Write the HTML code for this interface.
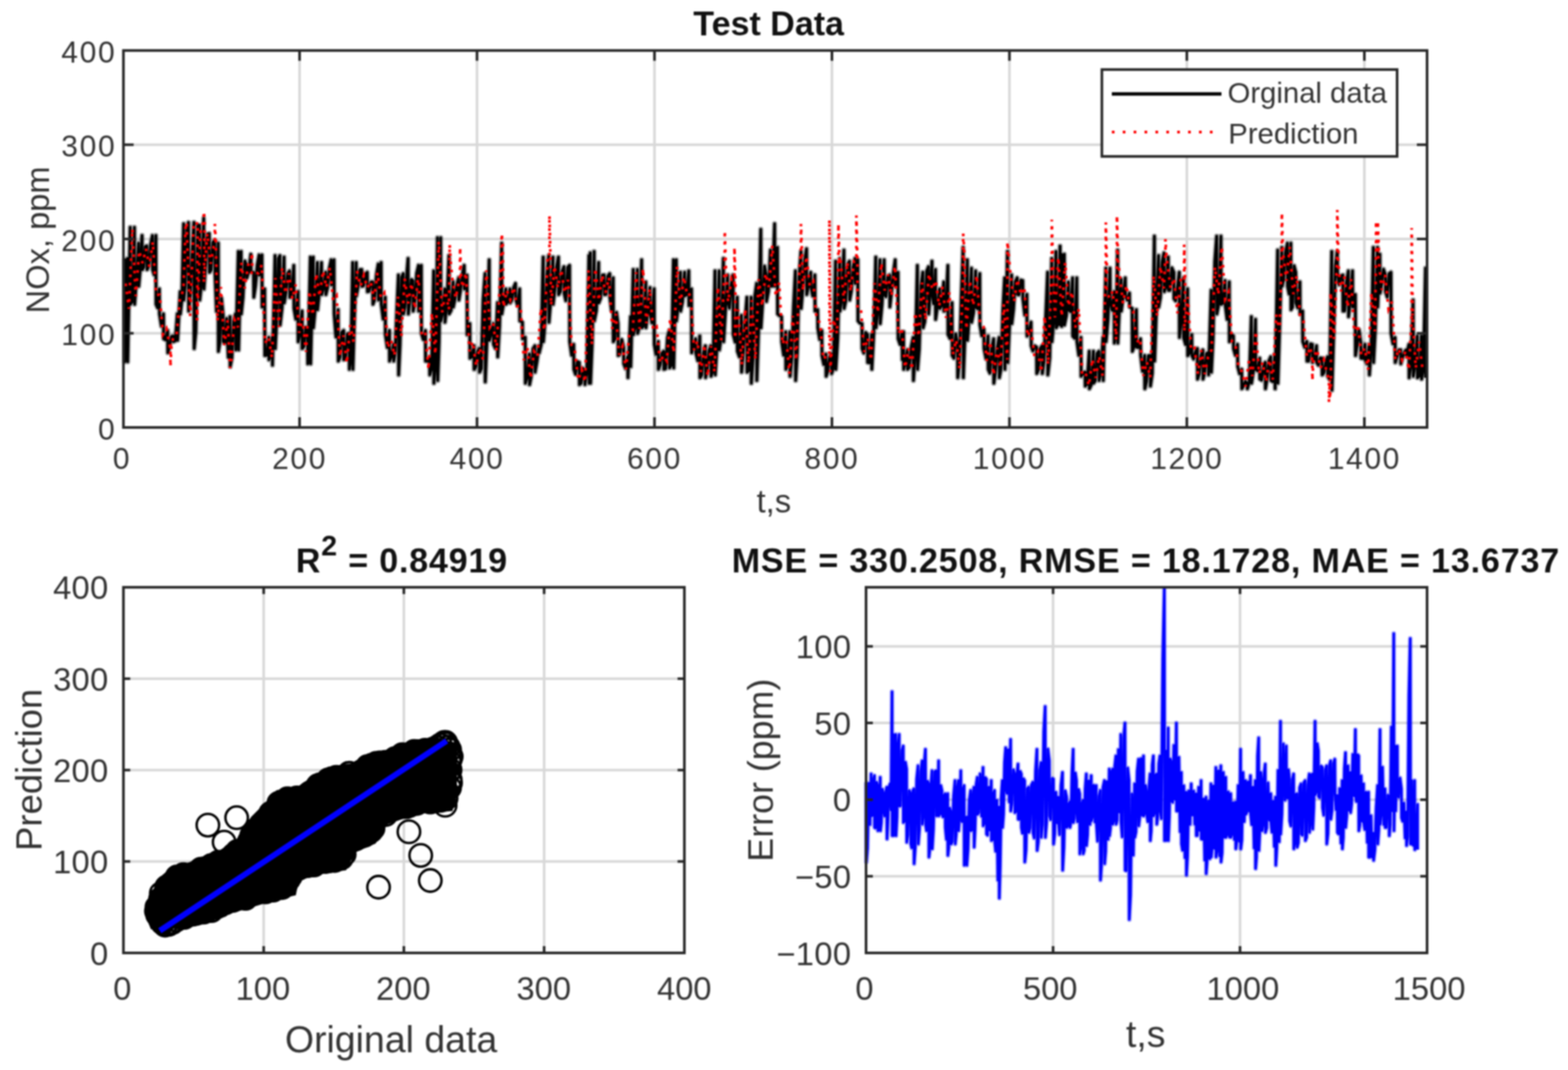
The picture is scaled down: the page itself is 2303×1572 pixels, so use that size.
<!DOCTYPE html>
<html><head><meta charset="utf-8"><title>Test Data</title>
<style>html,body{margin:0;padding:0;background:#fff;overflow:hidden;}svg{display:block;filter:blur(0.8px);}</style>
</head><body>
<svg width="2303" height="1572" viewBox="0 0 2303 1572" font-family="'Liberation Sans', Arial, Helvetica, sans-serif">
<rect width="2303" height="1572" fill="#ffffff"/>
<line x1="440" y1="74.2" x2="440" y2="628" stroke="#d8d8d8" stroke-width="3.84"/>
<line x1="700.6" y1="74.2" x2="700.6" y2="628" stroke="#d8d8d8" stroke-width="3.84"/>
<line x1="961.3" y1="74.2" x2="961.3" y2="628" stroke="#d8d8d8" stroke-width="3.84"/>
<line x1="1221.9" y1="74.2" x2="1221.9" y2="628" stroke="#d8d8d8" stroke-width="3.84"/>
<line x1="1482.6" y1="74.2" x2="1482.6" y2="628" stroke="#d8d8d8" stroke-width="3.84"/>
<line x1="1743.2" y1="74.2" x2="1743.2" y2="628" stroke="#d8d8d8" stroke-width="3.84"/>
<line x1="2003.9" y1="74.2" x2="2003.9" y2="628" stroke="#d8d8d8" stroke-width="3.84"/>
<line x1="181.3" y1="489.6" x2="2096" y2="489.6" stroke="#d8d8d8" stroke-width="3.84"/>
<line x1="181.3" y1="351.1" x2="2096" y2="351.1" stroke="#d8d8d8" stroke-width="3.84"/>
<line x1="181.3" y1="212.6" x2="2096" y2="212.6" stroke="#d8d8d8" stroke-width="3.84"/>
<path d="M183.1 379.7 L183.4 531.4 L187.2 379.7 L187.5 531.4 L191.3 333.9 L191.6 447 L194.3 442.4 L197.4 333.9 L197.7 447 L200.4 411.3 L203.5 357.3 L203.8 420.5 L206 395.3 L208.6 346.1 L208.9 396.1 L211 392.6 L213.3 362.2 L215.7 361.4 L216 396.1 L218.4 390.7 L221.1 360 L223.9 346.1 L224.2 396.1 L226.4 403.7 L228.9 346.1 L229.2 447 L231.5 452.1 L234 424.5 L234.3 461.2 L237.1 479.2 L240.1 461.1 L240.4 497.8 L243.2 499.3 L246.2 485.6 L246.5 518.2 L249 509.6 L251.7 494.7 L254.4 493.7 L254.7 501.9 L257.4 500.9 L260.5 461.1 L260.8 499.9 L264.6 428.6 L264.9 461.2 L267.1 441.4 L269.7 328.8 L270 440.8 L272 420.7 L274.4 336 L276.8 326.8 L277.1 457.1 L279.5 433.3 L282.2 371.9 L284.9 326.8 L285.2 512.1 L287.6 486.9 L290.4 330.5 L293.1 330.9 L293.4 440.8 L296.1 415.3 L299.2 320.7 L299.5 424.6 L301.9 391.5 L304.6 343.9 L307.3 343.1 L307.6 400.1 L310 396.6 L312.7 356.2 L315.5 353.2 L315.8 400.1 L318 457.3 L320.5 357.3 L320.8 516.2 L322.9 503.5 L325.3 438.2 L327.7 463.2 L328 501.9 L330.2 504 L332.8 468.1 L335.3 524.9 L337.8 465.2 L338.1 538.6 L340.6 526 L343.3 470.7 L346 461.1 L346.3 514.1 L350.1 369.5 L350.4 514.1 L354.1 369.5 L354.4 461.2 L356.8 437.7 L359.6 383.4 L362.3 389.9 L362.6 408.3 L365.3 398.6 L368.4 373.6 L368.7 400.1 L372.5 400.1 L372.8 436.8 L375.2 420.2 L377.9 389.3 L380.6 374.6 L380.9 404.2 L384.7 374.6 L385 451 L388.7 424.5 L389 522.3 L391.8 521.7 L394.8 495.7 L395.1 528.4 L397.4 521.5 L399.9 495.7 L400.2 536.5 L404 375.6 L404.3 512.1 L406.4 468.3 L408.8 379.8 L411.1 375.6 L411.4 477.5 L414.2 452.8 L417.2 377.7 L417.5 444.9 L419.9 429.7 L422.6 401.5 L425.4 398 L425.7 436.8 L428.4 430.6 L431.5 389.9 L431.8 453.1 L434.5 468.8 L437.6 428.6 L437.9 501.9 L440.6 491 L443.7 457.1 L444 512.1 L446.4 508.9 L449.1 480.7 L451.8 485.6 L452.1 534.5 L455.9 377.7 L456.2 534.5 L460 377.7 L460.3 481.6 L463 453.1 L466.1 385.8 L466.4 455.1 L469.1 428.5 L472.2 385.8 L472.5 432.7 L475.2 422.6 L478.3 400.1 L478.6 432.7 L481 422.8 L483.7 394.1 L486.4 381.7 L486.7 418.5 L490.5 381.7 L490.8 461.2 L493.5 495 L496.6 455 L496.9 530.4 L499.3 525 L502 488.2 L504.7 485.6 L505 528.4 L507.5 527.4 L510.2 490.9 L512.9 489.6 L513.2 542.6 L515.4 525.4 L518 385.8 L518.3 542.6 L520.5 467 L523.1 385.8 L523.4 434.7 L525.8 421.7 L528.5 396.3 L531.2 396 L531.5 420.5 L533.9 419.8 L536.6 402.9 L539.4 400.1 L539.7 428.6 L542.1 427.8 L544.8 414.5 L547.5 414.3 L547.8 447 L550.2 440.3 L552.9 403.5 L555.6 387.9 L555.9 440.8 L559.7 385.8 L560 447 L562.8 468.8 L565.8 436.7 L566.1 491.7 L568.9 510.4 L571.9 485.6 L572.2 530.4 L575 523.1 L578 505.9 L578.3 530.4 L580.4 518 L582.8 456.9 L585.2 404.1 L585.5 550.8 L587.5 507 L589.9 407.3 L592.3 402.1 L592.6 461.2 L594.7 451.2 L597 409 L599.4 379.7 L599.7 461.2 L601.8 443.8 L604.2 410.7 L606.5 412.3 L606.8 457.1 L609.2 443.6 L612 401.5 L614.7 389.9 L615 457.1 L618.7 389.9 L619 489.7 L621.8 498.9 L624.8 485.6 L625.1 530.4 L627.9 530.7 L631 526.3 L631.3 550.8 L634 540.5 L637 398 L637.3 563 L639.8 535.1 L642.6 349.2 L642.9 558.9 L644.9 501.7 L647.2 349.2 L647.5 471.4 L650.3 458.3 L653.3 424.5 L653.6 473.4 L656.4 448 L659.4 375.6 L659.7 461.2 L662.5 456 L665.5 414.3 L665.8 451 L668.2 439.3 L671 418.6 L673.7 408.2 L674 440.8 L676.4 426.6 L679.1 403.5 L681.8 389.9 L682.1 424.6 L685.9 404.1 L686.2 491.7 L690 475.4 L690.3 526.3 L693 524.1 L696.1 508 L696.4 542.6 L698.8 538.6 L701.5 516.5 L704.2 512 L704.5 546.7 L706.9 541.7 L709.6 440.7 L712.4 402.1 L712.7 561 L715.4 494.3 L718.5 381.7 L718.8 499.9 L721.5 490.2 L724.6 475.4 L724.9 506 L727.6 511.9 L730.7 444.8 L731 524.3 L733.7 478.9 L736.8 357.3 L737.1 461.2 L739.8 444.9 L742.9 424.5 L743.2 447 L745.9 443.6 L749 424.5 L749.3 444.9 L751.7 440.7 L754.4 422.6 L757.1 416.4 L757.4 438.8 L760.2 448.6 L763.2 424.5 L763.5 471.4 L767.3 473.3 L767.6 497.8 L771.4 495.7 L771.7 563 L774.4 553.7 L777.5 520.2 L777.8 565 L780.2 553 L782.9 512.4 L785.6 508 L785.9 546.7 L788.7 530.8 L791.7 508 L792 518.2 L794.8 506.5 L797.8 377.7 L798.1 501.9 L800.6 472.2 L803.3 403.9 L806 375.6 L806.3 473.4 L809 440.2 L812.1 377.7 L812.4 447 L814.8 426.8 L817.5 392.3 L820.2 377.7 L820.5 432.7 L823 428.2 L825.7 398.3 L828.4 391.9 L828.7 430.7 L831.1 441.7 L833.8 392.8 L836.5 389.9 L836.8 501.9 L839.6 521.9 L842.6 505.9 L842.9 542.6 L845.3 549.9 L848.1 531.3 L850.8 532.4 L851.1 565 L853.5 562.9 L856.2 541.3 L858.9 544.6 L859.2 565 L862 544.5 L865 375.6 L865.3 563 L867 371.6 L867.3 563 L869.8 502 L872.6 369.5 L872.9 471.4 L875.9 456.5 L879.2 385.8 L879.5 444.9 L882 438.5 L884.7 404.2 L887.4 404.1 L887.7 432.7 L890.1 432.5 L892.8 405.5 L895.5 402.1 L895.8 436.8 L898.1 455.6 L900.6 408.2 L900.9 501.9 L903 498 L905.4 459 L907.7 475.4 L908 522.3 L910.5 520.7 L913.2 498.7 L915.9 510 L916.2 534.5 L918.9 541.5 L922 524.2 L922.3 554.8 L926.1 465.2 L926.4 538.6 L930.1 396 L930.4 491.7 L933.2 478.8 L936.2 396 L936.5 489.7 L939.3 480.2 L942.4 381.7 L942.7 481.6 L945.4 478.8 L948.5 414.3 L948.8 481.6 L951.5 457.1 L954.6 422.5 L954.9 461.2 L957.6 474.4 L960.7 424.5 L961 506 L963.7 520.5 L966.8 501.8 L967.1 542.6 L969.5 536.1 L972.2 519 L974.9 516.1 L975.2 542.6 L977.6 541.7 L980.4 496 L983.1 485.6 L983.4 540.6 L986.1 535.9 L989.2 381.7 L989.5 540.6 L993.2 381.7 L993.5 471.4 L996.3 448.4 L999.4 400.1 L999.7 457.1 L1002.4 443.7 L1005.5 400.1 L1005.8 434.7 L1008.5 432.8 L1011.6 398 L1011.9 449 L1015.6 424.5 L1015.9 518.2 L1018.7 506.6 L1021.7 497.8 L1022 518.2 L1024.8 529.9 L1027.8 493.7 L1028.1 554.8 L1030.6 551.1 L1033.3 518.3 L1036 508 L1036.3 554.8 L1038.7 543.1 L1041.4 515 L1044.1 508 L1044.4 552.8 L1047.2 545.2 L1050.2 398 L1050.5 550.8 L1053.3 506.3 L1056.3 398 L1056.6 514.1 L1059.4 493.9 L1062.5 379.7 L1062.8 501.9 L1065.5 457.7 L1068.6 404.1 L1068.9 440.8 L1071.3 452.6 L1074 417.5 L1076.7 404.1 L1077 491.7 L1079.8 502.5 L1082.8 436.7 L1083.1 516.2 L1085.9 524.1 L1088.9 463.2 L1089.2 546.7 L1091.6 519.9 L1094.3 472.1 L1097 436.7 L1097.3 546.7 L1100.1 544 L1103.2 436.7 L1103.5 563 L1105.9 527.7 L1108.6 435.9 L1111.3 416.4 L1111.6 558.9 L1114.3 479.8 L1117.4 337 L1117.7 481.6 L1120.1 444.3 L1122.8 391 L1125.5 404.1 L1125.8 442.9 L1128.6 428.2 L1131.6 367.5 L1131.9 420.5 L1134.7 420.3 L1137.7 328.8 L1138 420.5 L1141.8 363.4 L1142.1 461.2 L1144.9 463.8 L1147.9 465.2 L1148.2 501.9 L1151 521.8 L1154 487.6 L1154.3 542.6 L1157.1 532.9 L1160.1 487.6 L1160.4 552.8 L1162.9 526.8 L1165.6 450 L1168.3 398 L1168.6 558.9 L1171 516.7 L1173.7 407.5 L1176.4 369.5 L1176.7 453.1 L1179.1 423.5 L1181.9 382.2 L1184.6 365.5 L1184.9 432.7 L1187.6 419.9 L1190.7 400.1 L1191 420.5 L1193.7 434.7 L1196.8 404.1 L1197.1 457.1 L1200.9 455 L1201.2 481.6 L1203.9 498.6 L1207 485.6 L1207.3 522.3 L1210 535.4 L1213.1 520.2 L1213.4 552.8 L1215.8 545.1 L1218.5 524.1 L1221.2 520.2 L1221.5 548.7 L1224.3 540.2 L1227.3 383.8 L1227.6 542.6 L1230.4 496.2 L1233.4 379.7 L1233.7 457.1 L1236.5 438.8 L1239.5 367.5 L1239.8 453.1 L1242.2 442.2 L1245 388.3 L1247.7 383.8 L1248 440.8 L1250.4 427.8 L1253.1 392.4 L1255.8 379.7 L1256.1 416.4 L1259.9 381.7 L1260.2 471.4 L1262.9 474.7 L1266 475.4 L1266.3 512.1 L1268.7 518.7 L1271.4 488.6 L1274.1 491.7 L1274.4 532.5 L1277.2 533 L1280.2 491.7 L1280.5 542.6 L1283.3 489.2 L1286.3 377.7 L1286.6 481.6 L1289.4 455.3 L1292.5 381.7 L1292.8 475.5 L1295.5 446.7 L1298.6 381.7 L1298.9 432.7 L1301.3 435.6 L1304 406.4 L1306.7 404.1 L1307 451 L1309.4 429.7 L1312.1 400.8 L1314.8 381.7 L1315.1 420.5 L1318.9 400.1 L1319.2 497.8 L1322 506 L1325 487.6 L1325.3 528.4 L1327 487.6 L1327.3 542.6 L1329.8 531.6 L1332.6 514.1 L1332.9 542.6 L1335.5 539.8 L1338.4 509.4 L1341.3 495.7 L1341.6 558.9 L1344.3 518.9 L1347.4 389.9 L1347.7 542.6 L1350.1 513.2 L1352.8 419.6 L1355.5 400.1 L1355.8 481.6 L1358.2 472.8 L1361 398.4 L1363.7 391.9 L1364 461.2 L1366.2 430.1 L1368.8 383.8 L1369.1 430.7 L1371.3 446.2 L1373.9 396 L1374.2 469.3 L1376.9 449.6 L1380 424.5 L1380.3 453.1 L1383 448.7 L1386.1 414.3 L1386.4 457.1 L1389.1 456.2 L1392.2 389.9 L1392.5 491.7 L1395.2 497.1 L1398.3 444.8 L1398.6 522.3 L1401 526.2 L1403.7 490.7 L1406.4 505.9 L1406.7 554.8 L1409.1 529.8 L1411.9 437 L1414.6 363.4 L1414.9 554.8 L1417.6 483.1 L1420.7 381.7 L1421 499.9 L1423.7 460.4 L1426.8 394 L1427.1 473.4 L1429.8 459.5 L1432.9 398 L1433.2 451 L1435.9 453.6 L1439 402.1 L1439.3 477.5 L1442 493.2 L1445.1 483.5 L1445.4 512.1 L1448.2 526.9 L1451.2 493.7 L1451.5 542.6 L1453.9 548.2 L1456.6 512 L1459.4 497.8 L1459.7 563 L1462.1 545.3 L1464.8 511.6 L1467.5 495.7 L1467.8 554.8 L1470.2 542.2 L1472.9 457.6 L1475.6 408.2 L1475.9 542.6 L1479.7 369.5 L1480 532.5 L1482.8 476.5 L1485.8 404.1 L1486.1 475.5 L1488.5 454.9 L1491.2 413.7 L1494 408.2 L1494.3 432.7 L1496.7 433.1 L1499.4 411.6 L1502.1 412.3 L1502.4 438.8 L1505.2 462.8 L1508.2 432.6 L1508.5 493.8 L1511.3 488.1 L1514.3 473.3 L1514.6 508 L1517 515.5 L1519.7 508.2 L1522.5 510 L1522.8 548.7 L1525.2 543.3 L1527.9 512 L1530.6 508 L1530.9 548.7 L1533.3 531.1 L1536 464.4 L1538.7 400.1 L1539 550.8 L1541.8 525.8 L1544.8 379.7 L1545.1 501.9 L1547.9 468.2 L1551 369.5 L1551.3 481.6 L1554 476.4 L1557 361.4 L1557.3 477.5 L1559.1 373.6 L1559.4 479.5 L1563.1 373.6 L1563.4 477.5 L1566.2 463.8 L1569.2 414.3 L1569.5 455.1 L1572.3 457.7 L1575.4 408.2 L1575.7 493.8 L1578.4 496.8 L1581.5 408.2 L1581.8 501.9 L1584.5 521.9 L1587.6 495.7 L1587.9 552.8 L1590.6 548.4 L1593.7 546.6 L1594 567.1 L1596.7 564.3 L1599.8 516.1 L1600.1 571.1 L1602.8 565.3 L1605.9 516.1 L1606.2 563 L1608.6 559.3 L1611.3 519.3 L1614 516.1 L1614.3 558.9 L1617.1 547.1 L1620.1 495.7 L1620.4 558.9 L1624.2 394 L1624.5 501.9 L1627.3 469 L1630.3 394 L1630.6 440.8 L1633.4 455.7 L1636.4 428.6 L1636.7 504 L1639 491.9 L1641.5 367.5 L1641.8 504 L1644.1 453.9 L1646.6 410.2 L1646.9 457.1 L1649.7 435.9 L1652.7 408.2 L1653 434.7 L1655.8 440.8 L1658.8 430.6 L1659.1 451 L1662.9 453 L1663.2 516.2 L1665.9 508.6 L1669 455 L1669.3 510.1 L1672 510.5 L1675.1 497.8 L1675.4 522.3 L1678.2 545.6 L1681.2 522.2 L1681.5 571.1 L1683.9 560.5 L1686.6 522.8 L1689.4 522.2 L1689.7 567.1 L1692.4 548.4 L1695.5 347.1 L1695.8 530.4 L1698.5 452.6 L1701.6 375.6 L1701.9 451 L1704.3 437.4 L1707 384.2 L1709.7 371.6 L1710 428.6 L1712.8 420.5 L1715.8 377.7 L1716.1 426.6 L1718.5 426.4 L1721.2 393.4 L1724 400.1 L1724.3 438.8 L1726.7 442 L1729.4 422.4 L1732.1 400.1 L1732.4 495.8 L1735.2 469.1 L1738.2 408.2 L1738.5 495.8 L1741.3 505.9 L1744.3 424.5 L1744.6 522.3 L1747.4 518.1 L1750.4 491.7 L1750.7 522.3 L1753.1 527.3 L1755.8 517 L1758.6 512 L1758.9 556.9 L1761.3 549.7 L1764 522.4 L1766.7 514.1 L1767 556.9 L1769.4 547 L1772.1 519.6 L1774.8 518.1 L1775.1 550.8 L1778.9 426.5 L1779.2 546.7 L1781.6 499 L1784.3 384.3 L1787 347.1 L1787.3 461.2 L1790.1 446.2 L1793.2 347.1 L1793.5 447 L1796.2 445.3 L1799.2 412.3 L1799.5 447 L1802.3 469.3 L1805.4 414.3 L1805.7 501.9 L1808.4 491.4 L1811.5 493.7 L1811.8 512.1 L1814.5 521.9 L1817.6 505.9 L1817.9 538.6 L1820.6 548.9 L1823.7 542.6 L1824 571.1 L1826.4 566.9 L1829.1 560.4 L1831.8 562.9 L1832.1 571.1 L1834.9 560.9 L1837.9 465.2 L1838.2 563 L1841 544.9 L1844 469.3 L1844.3 542.6 L1847.1 544.7 L1850.1 526.3 L1850.4 556.9 L1852.9 558.5 L1855.6 539.5 L1858.3 532.4 L1858.6 571.1 L1861 557 L1863.7 530.2 L1866.4 524.2 L1866.7 558.9 L1869.5 560.7 L1872.5 520.2 L1872.8 571.1 L1876.6 367.5 L1876.9 563 L1879.7 471.1 L1882.7 363.4 L1883 420.5 L1885.4 410.2 L1888.1 370.3 L1890.9 357.3 L1891.2 420.5 L1893.4 431.9 L1895.9 357.3 L1896.2 455.1 L1898.3 451.2 L1900.7 390.4 L1903.1 400.1 L1903.4 444.9 L1906.1 452.1 L1909.2 414.3 L1909.5 461.2 L1913.2 457.1 L1913.5 501.9 L1916.3 510.1 L1919.4 501.8 L1919.7 530.4 L1922.1 530.5 L1924.8 505.2 L1927.5 505.9 L1927.8 532.5 L1930.5 527.6 L1933.6 508 L1933.9 532.5 L1936.3 536.4 L1939 526 L1941.7 526.3 L1942 550.8 L1944.5 547.6 L1947.2 532 L1949.9 524.2 L1950.2 552.8 L1952.9 557.6 L1956 369.5 L1956.3 573.2 L1958.7 493.5 L1961.4 390.6 L1964.1 369.5 L1964.4 400.1 L1966.8 418.3 L1969.6 405.6 L1972.3 404.1 L1972.6 457.1 L1975 456.8 L1977.7 414.6 L1980.4 398 L1980.7 465.3 L1983.5 440.4 L1986.5 398 L1986.8 451 L1990.6 432.6 L1990.9 522.3 L1993.3 507.1 L1996 484.4 L1998.7 503.9 L1999 526.3 L2001.8 526.6 L2004.8 505.9 L2005.1 528.4 L2007.9 534.4 L2011 505.9 L2011.3 550.8 L2014 512.1 L2017.1 363.4 L2017.4 532.5 L2020.1 480.4 L2023.2 363.4 L2023.5 451 L2026.6 373.6 L2026.9 430.7 L2029.3 417.6 L2032 395.5 L2034.8 404.2 L2035.1 428.7 L2037.5 436.4 L2040.2 402.1 L2042.9 400.1 L2043.2 489.7 L2046 505.1 L2049 495.8 L2049.3 532.5 L2051.7 524.7 L2054.4 514.2 L2057.2 514.1 L2057.5 534.5 L2059.9 526 L2062.6 517.2 L2065.3 514.1 L2065.6 522.3 L2069.4 506 L2069.7 554.9 L2072.4 535.8 L2075.5 440.8 L2075.8 552.8 L2078.5 536 L2081.6 493.7 L2081.9 554.9 L2084.6 552.6 L2087.7 493.7 L2088 556.9 L2090.7 541.4 L2093.8 394 L2093.8 554.9" fill="none" stroke="#000" stroke-opacity="0.35" stroke-width="8" stroke-linejoin="round"/>
<path d="M183.1 379.7 L183.4 531.4 L187.2 379.7 L187.5 531.4 L191.3 333.9 L191.6 447 L194.3 442.4 L197.4 333.9 L197.7 447 L200.4 411.3 L203.5 357.3 L203.8 420.5 L206 395.3 L208.6 346.1 L208.9 396.1 L211 392.6 L213.3 362.2 L215.7 361.4 L216 396.1 L218.4 390.7 L221.1 360 L223.9 346.1 L224.2 396.1 L226.4 403.7 L228.9 346.1 L229.2 447 L231.5 452.1 L234 424.5 L234.3 461.2 L237.1 479.2 L240.1 461.1 L240.4 497.8 L243.2 499.3 L246.2 485.6 L246.5 518.2 L249 509.6 L251.7 494.7 L254.4 493.7 L254.7 501.9 L257.4 500.9 L260.5 461.1 L260.8 499.9 L264.6 428.6 L264.9 461.2 L267.1 441.4 L269.7 328.8 L270 440.8 L272 420.7 L274.4 336 L276.8 326.8 L277.1 457.1 L279.5 433.3 L282.2 371.9 L284.9 326.8 L285.2 512.1 L287.6 486.9 L290.4 330.5 L293.1 330.9 L293.4 440.8 L296.1 415.3 L299.2 320.7 L299.5 424.6 L301.9 391.5 L304.6 343.9 L307.3 343.1 L307.6 400.1 L310 396.6 L312.7 356.2 L315.5 353.2 L315.8 400.1 L318 457.3 L320.5 357.3 L320.8 516.2 L322.9 503.5 L325.3 438.2 L327.7 463.2 L328 501.9 L330.2 504 L332.8 468.1 L335.3 524.9 L337.8 465.2 L338.1 538.6 L340.6 526 L343.3 470.7 L346 461.1 L346.3 514.1 L350.1 369.5 L350.4 514.1 L354.1 369.5 L354.4 461.2 L356.8 437.7 L359.6 383.4 L362.3 389.9 L362.6 408.3 L365.3 398.6 L368.4 373.6 L368.7 400.1 L372.5 400.1 L372.8 436.8 L375.2 420.2 L377.9 389.3 L380.6 374.6 L380.9 404.2 L384.7 374.6 L385 451 L388.7 424.5 L389 522.3 L391.8 521.7 L394.8 495.7 L395.1 528.4 L397.4 521.5 L399.9 495.7 L400.2 536.5 L404 375.6 L404.3 512.1 L406.4 468.3 L408.8 379.8 L411.1 375.6 L411.4 477.5 L414.2 452.8 L417.2 377.7 L417.5 444.9 L419.9 429.7 L422.6 401.5 L425.4 398 L425.7 436.8 L428.4 430.6 L431.5 389.9 L431.8 453.1 L434.5 468.8 L437.6 428.6 L437.9 501.9 L440.6 491 L443.7 457.1 L444 512.1 L446.4 508.9 L449.1 480.7 L451.8 485.6 L452.1 534.5 L455.9 377.7 L456.2 534.5 L460 377.7 L460.3 481.6 L463 453.1 L466.1 385.8 L466.4 455.1 L469.1 428.5 L472.2 385.8 L472.5 432.7 L475.2 422.6 L478.3 400.1 L478.6 432.7 L481 422.8 L483.7 394.1 L486.4 381.7 L486.7 418.5 L490.5 381.7 L490.8 461.2 L493.5 495 L496.6 455 L496.9 530.4 L499.3 525 L502 488.2 L504.7 485.6 L505 528.4 L507.5 527.4 L510.2 490.9 L512.9 489.6 L513.2 542.6 L515.4 525.4 L518 385.8 L518.3 542.6 L520.5 467 L523.1 385.8 L523.4 434.7 L525.8 421.7 L528.5 396.3 L531.2 396 L531.5 420.5 L533.9 419.8 L536.6 402.9 L539.4 400.1 L539.7 428.6 L542.1 427.8 L544.8 414.5 L547.5 414.3 L547.8 447 L550.2 440.3 L552.9 403.5 L555.6 387.9 L555.9 440.8 L559.7 385.8 L560 447 L562.8 468.8 L565.8 436.7 L566.1 491.7 L568.9 510.4 L571.9 485.6 L572.2 530.4 L575 523.1 L578 505.9 L578.3 530.4 L580.4 518 L582.8 456.9 L585.2 404.1 L585.5 550.8 L587.5 507 L589.9 407.3 L592.3 402.1 L592.6 461.2 L594.7 451.2 L597 409 L599.4 379.7 L599.7 461.2 L601.8 443.8 L604.2 410.7 L606.5 412.3 L606.8 457.1 L609.2 443.6 L612 401.5 L614.7 389.9 L615 457.1 L618.7 389.9 L619 489.7 L621.8 498.9 L624.8 485.6 L625.1 530.4 L627.9 530.7 L631 526.3 L631.3 550.8 L634 540.5 L637 398 L637.3 563 L639.8 535.1 L642.6 349.2 L642.9 558.9 L644.9 501.7 L647.2 349.2 L647.5 471.4 L650.3 458.3 L653.3 424.5 L653.6 473.4 L656.4 448 L659.4 375.6 L659.7 461.2 L662.5 456 L665.5 414.3 L665.8 451 L668.2 439.3 L671 418.6 L673.7 408.2 L674 440.8 L676.4 426.6 L679.1 403.5 L681.8 389.9 L682.1 424.6 L685.9 404.1 L686.2 491.7 L690 475.4 L690.3 526.3 L693 524.1 L696.1 508 L696.4 542.6 L698.8 538.6 L701.5 516.5 L704.2 512 L704.5 546.7 L706.9 541.7 L709.6 440.7 L712.4 402.1 L712.7 561 L715.4 494.3 L718.5 381.7 L718.8 499.9 L721.5 490.2 L724.6 475.4 L724.9 506 L727.6 511.9 L730.7 444.8 L731 524.3 L733.7 478.9 L736.8 357.3 L737.1 461.2 L739.8 444.9 L742.9 424.5 L743.2 447 L745.9 443.6 L749 424.5 L749.3 444.9 L751.7 440.7 L754.4 422.6 L757.1 416.4 L757.4 438.8 L760.2 448.6 L763.2 424.5 L763.5 471.4 L767.3 473.3 L767.6 497.8 L771.4 495.7 L771.7 563 L774.4 553.7 L777.5 520.2 L777.8 565 L780.2 553 L782.9 512.4 L785.6 508 L785.9 546.7 L788.7 530.8 L791.7 508 L792 518.2 L794.8 506.5 L797.8 377.7 L798.1 501.9 L800.6 472.2 L803.3 403.9 L806 375.6 L806.3 473.4 L809 440.2 L812.1 377.7 L812.4 447 L814.8 426.8 L817.5 392.3 L820.2 377.7 L820.5 432.7 L823 428.2 L825.7 398.3 L828.4 391.9 L828.7 430.7 L831.1 441.7 L833.8 392.8 L836.5 389.9 L836.8 501.9 L839.6 521.9 L842.6 505.9 L842.9 542.6 L845.3 549.9 L848.1 531.3 L850.8 532.4 L851.1 565 L853.5 562.9 L856.2 541.3 L858.9 544.6 L859.2 565 L862 544.5 L865 375.6 L865.3 563 L867 371.6 L867.3 563 L869.8 502 L872.6 369.5 L872.9 471.4 L875.9 456.5 L879.2 385.8 L879.5 444.9 L882 438.5 L884.7 404.2 L887.4 404.1 L887.7 432.7 L890.1 432.5 L892.8 405.5 L895.5 402.1 L895.8 436.8 L898.1 455.6 L900.6 408.2 L900.9 501.9 L903 498 L905.4 459 L907.7 475.4 L908 522.3 L910.5 520.7 L913.2 498.7 L915.9 510 L916.2 534.5 L918.9 541.5 L922 524.2 L922.3 554.8 L926.1 465.2 L926.4 538.6 L930.1 396 L930.4 491.7 L933.2 478.8 L936.2 396 L936.5 489.7 L939.3 480.2 L942.4 381.7 L942.7 481.6 L945.4 478.8 L948.5 414.3 L948.8 481.6 L951.5 457.1 L954.6 422.5 L954.9 461.2 L957.6 474.4 L960.7 424.5 L961 506 L963.7 520.5 L966.8 501.8 L967.1 542.6 L969.5 536.1 L972.2 519 L974.9 516.1 L975.2 542.6 L977.6 541.7 L980.4 496 L983.1 485.6 L983.4 540.6 L986.1 535.9 L989.2 381.7 L989.5 540.6 L993.2 381.7 L993.5 471.4 L996.3 448.4 L999.4 400.1 L999.7 457.1 L1002.4 443.7 L1005.5 400.1 L1005.8 434.7 L1008.5 432.8 L1011.6 398 L1011.9 449 L1015.6 424.5 L1015.9 518.2 L1018.7 506.6 L1021.7 497.8 L1022 518.2 L1024.8 529.9 L1027.8 493.7 L1028.1 554.8 L1030.6 551.1 L1033.3 518.3 L1036 508 L1036.3 554.8 L1038.7 543.1 L1041.4 515 L1044.1 508 L1044.4 552.8 L1047.2 545.2 L1050.2 398 L1050.5 550.8 L1053.3 506.3 L1056.3 398 L1056.6 514.1 L1059.4 493.9 L1062.5 379.7 L1062.8 501.9 L1065.5 457.7 L1068.6 404.1 L1068.9 440.8 L1071.3 452.6 L1074 417.5 L1076.7 404.1 L1077 491.7 L1079.8 502.5 L1082.8 436.7 L1083.1 516.2 L1085.9 524.1 L1088.9 463.2 L1089.2 546.7 L1091.6 519.9 L1094.3 472.1 L1097 436.7 L1097.3 546.7 L1100.1 544 L1103.2 436.7 L1103.5 563 L1105.9 527.7 L1108.6 435.9 L1111.3 416.4 L1111.6 558.9 L1114.3 479.8 L1117.4 337 L1117.7 481.6 L1120.1 444.3 L1122.8 391 L1125.5 404.1 L1125.8 442.9 L1128.6 428.2 L1131.6 367.5 L1131.9 420.5 L1134.7 420.3 L1137.7 328.8 L1138 420.5 L1141.8 363.4 L1142.1 461.2 L1144.9 463.8 L1147.9 465.2 L1148.2 501.9 L1151 521.8 L1154 487.6 L1154.3 542.6 L1157.1 532.9 L1160.1 487.6 L1160.4 552.8 L1162.9 526.8 L1165.6 450 L1168.3 398 L1168.6 558.9 L1171 516.7 L1173.7 407.5 L1176.4 369.5 L1176.7 453.1 L1179.1 423.5 L1181.9 382.2 L1184.6 365.5 L1184.9 432.7 L1187.6 419.9 L1190.7 400.1 L1191 420.5 L1193.7 434.7 L1196.8 404.1 L1197.1 457.1 L1200.9 455 L1201.2 481.6 L1203.9 498.6 L1207 485.6 L1207.3 522.3 L1210 535.4 L1213.1 520.2 L1213.4 552.8 L1215.8 545.1 L1218.5 524.1 L1221.2 520.2 L1221.5 548.7 L1224.3 540.2 L1227.3 383.8 L1227.6 542.6 L1230.4 496.2 L1233.4 379.7 L1233.7 457.1 L1236.5 438.8 L1239.5 367.5 L1239.8 453.1 L1242.2 442.2 L1245 388.3 L1247.7 383.8 L1248 440.8 L1250.4 427.8 L1253.1 392.4 L1255.8 379.7 L1256.1 416.4 L1259.9 381.7 L1260.2 471.4 L1262.9 474.7 L1266 475.4 L1266.3 512.1 L1268.7 518.7 L1271.4 488.6 L1274.1 491.7 L1274.4 532.5 L1277.2 533 L1280.2 491.7 L1280.5 542.6 L1283.3 489.2 L1286.3 377.7 L1286.6 481.6 L1289.4 455.3 L1292.5 381.7 L1292.8 475.5 L1295.5 446.7 L1298.6 381.7 L1298.9 432.7 L1301.3 435.6 L1304 406.4 L1306.7 404.1 L1307 451 L1309.4 429.7 L1312.1 400.8 L1314.8 381.7 L1315.1 420.5 L1318.9 400.1 L1319.2 497.8 L1322 506 L1325 487.6 L1325.3 528.4 L1327 487.6 L1327.3 542.6 L1329.8 531.6 L1332.6 514.1 L1332.9 542.6 L1335.5 539.8 L1338.4 509.4 L1341.3 495.7 L1341.6 558.9 L1344.3 518.9 L1347.4 389.9 L1347.7 542.6 L1350.1 513.2 L1352.8 419.6 L1355.5 400.1 L1355.8 481.6 L1358.2 472.8 L1361 398.4 L1363.7 391.9 L1364 461.2 L1366.2 430.1 L1368.8 383.8 L1369.1 430.7 L1371.3 446.2 L1373.9 396 L1374.2 469.3 L1376.9 449.6 L1380 424.5 L1380.3 453.1 L1383 448.7 L1386.1 414.3 L1386.4 457.1 L1389.1 456.2 L1392.2 389.9 L1392.5 491.7 L1395.2 497.1 L1398.3 444.8 L1398.6 522.3 L1401 526.2 L1403.7 490.7 L1406.4 505.9 L1406.7 554.8 L1409.1 529.8 L1411.9 437 L1414.6 363.4 L1414.9 554.8 L1417.6 483.1 L1420.7 381.7 L1421 499.9 L1423.7 460.4 L1426.8 394 L1427.1 473.4 L1429.8 459.5 L1432.9 398 L1433.2 451 L1435.9 453.6 L1439 402.1 L1439.3 477.5 L1442 493.2 L1445.1 483.5 L1445.4 512.1 L1448.2 526.9 L1451.2 493.7 L1451.5 542.6 L1453.9 548.2 L1456.6 512 L1459.4 497.8 L1459.7 563 L1462.1 545.3 L1464.8 511.6 L1467.5 495.7 L1467.8 554.8 L1470.2 542.2 L1472.9 457.6 L1475.6 408.2 L1475.9 542.6 L1479.7 369.5 L1480 532.5 L1482.8 476.5 L1485.8 404.1 L1486.1 475.5 L1488.5 454.9 L1491.2 413.7 L1494 408.2 L1494.3 432.7 L1496.7 433.1 L1499.4 411.6 L1502.1 412.3 L1502.4 438.8 L1505.2 462.8 L1508.2 432.6 L1508.5 493.8 L1511.3 488.1 L1514.3 473.3 L1514.6 508 L1517 515.5 L1519.7 508.2 L1522.5 510 L1522.8 548.7 L1525.2 543.3 L1527.9 512 L1530.6 508 L1530.9 548.7 L1533.3 531.1 L1536 464.4 L1538.7 400.1 L1539 550.8 L1541.8 525.8 L1544.8 379.7 L1545.1 501.9 L1547.9 468.2 L1551 369.5 L1551.3 481.6 L1554 476.4 L1557 361.4 L1557.3 477.5 L1559.1 373.6 L1559.4 479.5 L1563.1 373.6 L1563.4 477.5 L1566.2 463.8 L1569.2 414.3 L1569.5 455.1 L1572.3 457.7 L1575.4 408.2 L1575.7 493.8 L1578.4 496.8 L1581.5 408.2 L1581.8 501.9 L1584.5 521.9 L1587.6 495.7 L1587.9 552.8 L1590.6 548.4 L1593.7 546.6 L1594 567.1 L1596.7 564.3 L1599.8 516.1 L1600.1 571.1 L1602.8 565.3 L1605.9 516.1 L1606.2 563 L1608.6 559.3 L1611.3 519.3 L1614 516.1 L1614.3 558.9 L1617.1 547.1 L1620.1 495.7 L1620.4 558.9 L1624.2 394 L1624.5 501.9 L1627.3 469 L1630.3 394 L1630.6 440.8 L1633.4 455.7 L1636.4 428.6 L1636.7 504 L1639 491.9 L1641.5 367.5 L1641.8 504 L1644.1 453.9 L1646.6 410.2 L1646.9 457.1 L1649.7 435.9 L1652.7 408.2 L1653 434.7 L1655.8 440.8 L1658.8 430.6 L1659.1 451 L1662.9 453 L1663.2 516.2 L1665.9 508.6 L1669 455 L1669.3 510.1 L1672 510.5 L1675.1 497.8 L1675.4 522.3 L1678.2 545.6 L1681.2 522.2 L1681.5 571.1 L1683.9 560.5 L1686.6 522.8 L1689.4 522.2 L1689.7 567.1 L1692.4 548.4 L1695.5 347.1 L1695.8 530.4 L1698.5 452.6 L1701.6 375.6 L1701.9 451 L1704.3 437.4 L1707 384.2 L1709.7 371.6 L1710 428.6 L1712.8 420.5 L1715.8 377.7 L1716.1 426.6 L1718.5 426.4 L1721.2 393.4 L1724 400.1 L1724.3 438.8 L1726.7 442 L1729.4 422.4 L1732.1 400.1 L1732.4 495.8 L1735.2 469.1 L1738.2 408.2 L1738.5 495.8 L1741.3 505.9 L1744.3 424.5 L1744.6 522.3 L1747.4 518.1 L1750.4 491.7 L1750.7 522.3 L1753.1 527.3 L1755.8 517 L1758.6 512 L1758.9 556.9 L1761.3 549.7 L1764 522.4 L1766.7 514.1 L1767 556.9 L1769.4 547 L1772.1 519.6 L1774.8 518.1 L1775.1 550.8 L1778.9 426.5 L1779.2 546.7 L1781.6 499 L1784.3 384.3 L1787 347.1 L1787.3 461.2 L1790.1 446.2 L1793.2 347.1 L1793.5 447 L1796.2 445.3 L1799.2 412.3 L1799.5 447 L1802.3 469.3 L1805.4 414.3 L1805.7 501.9 L1808.4 491.4 L1811.5 493.7 L1811.8 512.1 L1814.5 521.9 L1817.6 505.9 L1817.9 538.6 L1820.6 548.9 L1823.7 542.6 L1824 571.1 L1826.4 566.9 L1829.1 560.4 L1831.8 562.9 L1832.1 571.1 L1834.9 560.9 L1837.9 465.2 L1838.2 563 L1841 544.9 L1844 469.3 L1844.3 542.6 L1847.1 544.7 L1850.1 526.3 L1850.4 556.9 L1852.9 558.5 L1855.6 539.5 L1858.3 532.4 L1858.6 571.1 L1861 557 L1863.7 530.2 L1866.4 524.2 L1866.7 558.9 L1869.5 560.7 L1872.5 520.2 L1872.8 571.1 L1876.6 367.5 L1876.9 563 L1879.7 471.1 L1882.7 363.4 L1883 420.5 L1885.4 410.2 L1888.1 370.3 L1890.9 357.3 L1891.2 420.5 L1893.4 431.9 L1895.9 357.3 L1896.2 455.1 L1898.3 451.2 L1900.7 390.4 L1903.1 400.1 L1903.4 444.9 L1906.1 452.1 L1909.2 414.3 L1909.5 461.2 L1913.2 457.1 L1913.5 501.9 L1916.3 510.1 L1919.4 501.8 L1919.7 530.4 L1922.1 530.5 L1924.8 505.2 L1927.5 505.9 L1927.8 532.5 L1930.5 527.6 L1933.6 508 L1933.9 532.5 L1936.3 536.4 L1939 526 L1941.7 526.3 L1942 550.8 L1944.5 547.6 L1947.2 532 L1949.9 524.2 L1950.2 552.8 L1952.9 557.6 L1956 369.5 L1956.3 573.2 L1958.7 493.5 L1961.4 390.6 L1964.1 369.5 L1964.4 400.1 L1966.8 418.3 L1969.6 405.6 L1972.3 404.1 L1972.6 457.1 L1975 456.8 L1977.7 414.6 L1980.4 398 L1980.7 465.3 L1983.5 440.4 L1986.5 398 L1986.8 451 L1990.6 432.6 L1990.9 522.3 L1993.3 507.1 L1996 484.4 L1998.7 503.9 L1999 526.3 L2001.8 526.6 L2004.8 505.9 L2005.1 528.4 L2007.9 534.4 L2011 505.9 L2011.3 550.8 L2014 512.1 L2017.1 363.4 L2017.4 532.5 L2020.1 480.4 L2023.2 363.4 L2023.5 451 L2026.6 373.6 L2026.9 430.7 L2029.3 417.6 L2032 395.5 L2034.8 404.2 L2035.1 428.7 L2037.5 436.4 L2040.2 402.1 L2042.9 400.1 L2043.2 489.7 L2046 505.1 L2049 495.8 L2049.3 532.5 L2051.7 524.7 L2054.4 514.2 L2057.2 514.1 L2057.5 534.5 L2059.9 526 L2062.6 517.2 L2065.3 514.1 L2065.6 522.3 L2069.4 506 L2069.7 554.9 L2072.4 535.8 L2075.5 440.8 L2075.8 552.8 L2078.5 536 L2081.6 493.7 L2081.9 554.9 L2084.6 552.6 L2087.7 493.7 L2088 556.9 L2090.7 541.4 L2093.8 394 L2093.8 554.9" fill="none" stroke="#000" stroke-width="4" stroke-linejoin="round"/>
<path d="M184.4 416.5 L189.4 453.7 L194.4 336.5 L199.4 435.1 L204.4 368.5 L209.4 386.6 L214.4 365.6 L219.4 392 L224.4 355.3 L229.4 433.3 L234.4 433 L239.4 491.3 L244.4 482.8 L249.4 508.7 L250.3 508.1 L250.3 538.5 L251.8 508.1 L254.4 495.6 L259.4 491.4 L264.4 437.9 L269.4 426.2 L272.7 329.9 L272.7 326.8 L274.2 329.9 L274.4 342.1 L279.4 464.3 L284.4 329.4 L289 330.8 L289 326.8 L290.5 330.8 L289.4 470.6 L294.4 342 L299.2 322.7 L299.2 310.5 L300.7 322.7 L299.4 414.8 L304.4 343 L309.4 387.5 L314.4 359 L315.5 355.2 L315.5 328.9 L317 355.2 L319.4 471.4 L324.4 421.6 L329.4 507 L334.4 470.4 L337.8 536.6 L337.8 540.6 L339.3 536.6 L339.4 530.5 L344.4 469.9 L349.4 481 L354.4 386 L359.4 423.8 L364.4 389.4 L369.4 382.2 L369.4 371.6 L370.9 382.2 L369.4 403.2 L374.4 400.9 L379.4 401.3 L384.4 389.3 L389.4 504.5 L394.4 495.1 L399.4 525.4 L404.4 408.5 L409.4 480.3 L414.4 393 L419.4 431.4 L424.4 401.4 L429.4 439.6 L434.4 417.9 L439.4 488.8 L444.4 467.3 L449.4 516.8 L454.4 427.4 L459.4 463.3 L464.4 401.9 L469.4 435.4 L474.4 397.7 L479.4 422.5 L484.4 393.3 L489.4 441.1 L494.4 434.3 L499.4 523.7 L504.4 492.8 L509.4 533.7 L514.4 477.7 L519.4 502.3 L524.4 398.3 L529.4 420.4 L534.4 404.4 L539.4 423.1 L544.4 413.6 L549.4 439.9 L554.4 400.6 L559.4 436.9 L564.4 430.5 L569.4 511.3 L574.4 499.4 L579.4 522.5 L584.4 435.9 L589.4 494.1 L594.4 409.4 L599.4 445.8 L604.4 415.9 L609.4 453.7 L614.4 403.5 L619.4 492 L624.4 487.8 L629.4 542.9 L634.4 459.7 L639.4 520.4 L644.4 354.8 L649.4 458.9 L654.4 428 L659.4 455.1 L660.4 384.1 L660.4 359.4 L661.9 384.1 L664.4 410.7 L669.4 437.9 L674.4 410.7 L675.7 405.6 L675.7 363.5 L677.2 405.6 L679.4 422.6 L684.4 400.6 L689.4 516.1 L694.4 501.9 L699.4 537.8 L704.4 510.7 L709.4 528 L714.4 397 L719.4 481.3 L724.4 474.6 L729.4 515.3 L734.4 410.7 L736.8 359.3 L736.8 343.1 L738.3 359.3 L739.4 451.4 L744.4 426.4 L749.4 440.4 L754.4 422 L759.4 449.8 L764.4 449.4 L769.4 529.2 L774.4 509.5 L779.4 556.1 L784.4 516.5 L789.4 524.4 L794.4 453 L799.4 485.5 L804.4 377.8 L807 378 L807 316.6 L808.5 378 L809.4 448.5 L814.4 390.8 L819.4 423 L824.4 396.1 L829.4 430.2 L834.4 411.1 L839.4 507.3 L844.4 516.8 L849.4 558.6 L854.4 543 L859.4 561.3 L864.4 397.1 L869.4 505.8 L874.4 394.3 L879.4 441.8 L884.4 404 L889.4 430 L894.4 407.5 L899.4 483 L904.4 461.2 L909.4 521.2 L914.4 508.8 L919.4 542.6 L924.4 490 L929.4 486.2 L934.4 400.2 L939.4 483.1 L944.4 394.6 L949.4 474.8 L954.4 424.2 L959.4 484.7 L964.4 480.1 L969.4 533.2 L974.4 522.2 L979.4 530.5 L984.4 467.6 L989.4 518.1 L994.4 391.4 L999.4 447.7 L1004.4 406.7 L1009.4 434.4 L1014.4 431.8 L1019.4 514.3 L1024.4 500.8 L1029.4 546.4 L1034.4 506.3 L1039.4 552.6 L1044.4 508.4 L1049.4 546.2 L1054.4 421.7 L1059.4 499.9 L1064.4 391 L1064.5 389.9 L1064.5 339 L1066 389.9 L1069.4 443.5 L1074.4 409.3 L1078.7 417 L1078.7 363.5 L1080.2 417 L1079.4 497.2 L1084.4 455 L1089.4 536 L1094.4 453.9 L1099.4 533.7 L1104.4 441.2 L1109.4 527.8 L1114.4 410.4 L1119.4 449.7 L1124.4 401.7 L1129.4 421.7 L1134.4 360.7 L1139.4 435.3 L1144.4 415.4 L1149.4 505.9 L1154.4 491 L1159.4 549.2 L1164.4 464.1 L1169.4 529.3 L1174.4 390.5 L1176.4 371.5 L1176.4 328.9 L1177.9 371.5 L1179.4 427.1 L1184.4 376.5 L1189.4 419.9 L1194.4 413.1 L1199.4 469 L1204.4 474.1 L1209.4 528 L1214.4 521.9 L1218.2 522.2 L1218.2 322.7 L1219.7 522.2 L1219.4 546.5 L1224.4 469 L1229.4 490.2 L1231.4 383.1 L1231.4 328.9 L1232.9 383.1 L1234.4 379 L1239.4 442.7 L1244.4 385.1 L1249.4 428.4 L1254.4 383.4 L1257.8 382.7 L1257.8 316.6 L1259.3 382.7 L1259.4 452.4 L1264.4 453.5 L1269.4 517.1 L1274.4 496.3 L1279.4 529.2 L1284.4 415.9 L1289.4 459.2 L1294.4 386.5 L1299.4 426.8 L1304.4 403.4 L1309.4 434.9 L1314.4 390.9 L1319.4 490.5 L1324.4 481.6 L1329.4 540.4 L1334.4 511.9 L1339.4 543 L1344.4 459.2 L1349.4 494.4 L1354.4 415.1 L1359.4 470.3 L1364.4 402.2 L1369.4 425.4 L1374.4 411.9 L1379.4 449.7 L1384.4 421.3 L1389.4 466.9 L1394.4 429.4 L1399.4 521.1 L1404.4 499.1 L1409.4 541.9 L1414.4 411.3 L1414.6 365.4 L1414.6 343.1 L1416.1 365.4 L1419.4 483.6 L1424.4 411.8 L1429.4 448.9 L1434.4 404.3 L1439.4 475 L1444.4 479.6 L1449.4 530.1 L1454.4 502 L1459.4 551.2 L1464.4 511.1 L1469.4 539.9 L1474.4 446.9 L1479.4 528.3 L1479.7 371.5 L1479.7 355.3 L1481.2 371.5 L1484.4 405.4 L1489.4 443.3 L1494.4 410.3 L1499.4 433.3 L1504.4 421.7 L1509.4 494.5 L1514.4 482.3 L1519.4 524 L1524.4 516.5 L1529.4 546.5 L1534.4 464.7 L1539.4 535.7 L1544.4 402.5 L1544.8 381.7 L1544.8 322.7 L1546.3 381.7 L1549.4 466.4 L1554.4 378.2 L1559.4 464.8 L1564.4 385.7 L1569.4 449.9 L1574.4 428.4 L1579.4 481.4 L1584.4 453.7 L1589.4 550.5 L1594.4 547.9 L1599.4 566.6 L1604.4 527.6 L1609.4 555.2 L1614.4 523.1 L1619.4 552 L1624.2 396 L1624.2 326.8 L1625.7 396 L1624.4 420.7 L1629.4 438.1 L1634.4 427.5 L1639.4 499 L1640.5 381.7 L1640.5 316.6 L1642 381.7 L1644.4 402.2 L1649.4 445.5 L1654.4 419 L1659.4 454.5 L1664.4 457.2 L1669.4 503.5 L1674.4 497.3 L1679.4 552 L1684.4 531.3 L1689.4 555 L1694.4 405.2 L1699.4 464.5 L1704.4 391.3 L1709.4 423.8 L1711.7 375.6 L1711.7 351.2 L1713.2 375.6 L1714.4 386.4 L1719.4 424.1 L1724.4 408.7 L1729.4 460.2 L1734.4 409.3 L1739.2 412.9 L1739.2 359.4 L1740.7 412.9 L1739.4 486.6 L1744.4 436.4 L1749.4 514.7 L1754.4 511.4 L1759.4 549.1 L1764.4 514.6 L1769.4 549.5 L1774.4 524.5 L1779.4 514.2 L1784.4 392.1 L1789.4 432.9 L1794.4 362.3 L1799.4 439.6 L1804.4 429.2 L1809.4 501.8 L1814.4 505.9 L1819.4 541 L1824.4 546.1 L1829.4 567.7 L1834.4 530.5 L1839.4 552.5 L1844.4 486.8 L1849.4 549.3 L1854.4 532.1 L1859.4 561.1 L1864.4 528.4 L1869.4 557.7 L1874.4 462.2 L1879.4 487.5 L1882.7 365.4 L1882.7 312.6 L1884.2 365.4 L1884.4 371.1 L1889.4 412.5 L1894.4 362.7 L1899.4 432.2 L1904.4 405.1 L1909.4 462.9 L1914.4 471.7 L1919.4 523.9 L1924.4 509.6 L1927.5 530.5 L1927.5 558.9 L1929 530.5 L1929.4 526.9 L1934.4 513.6 L1939.4 540.8 L1944.4 528.6 L1949.4 549.9 L1951.9 557.6 L1951.9 591.5 L1953.4 557.6 L1953.3 562.3 L1953.3 585.4 L1954.8 562.3 L1954.4 429.6 L1959.4 498 L1964.1 371.5 L1964.1 308.5 L1965.6 371.5 L1964.4 372.4 L1969.4 428.1 L1974.4 405.9 L1979.4 451.4 L1984.4 410 L1989.4 493.2 L1994.4 476.7 L1999.4 521.6 L2004.4 511.2 L2009.4 543 L2014.4 430.1 L2019.4 486.8 L2021.1 365.4 L2021.1 324.8 L2022.6 365.4 L2023.6 366.6 L2023.6 324.8 L2025.1 366.6 L2024.4 376.8 L2029.4 425.8 L2034.4 404 L2039.4 454.4 L2044.4 443.2 L2049.4 528.5 L2054.4 512.2 L2059.4 528.7 L2064.4 515.9 L2069.4 543.5 L2073.4 464.5 L2073.4 335 L2074.9 464.5 L2074.4 460.5 L2079.4 540.7 L2084.4 502 L2089.4 543.3" fill="none" stroke="#ff0000" stroke-width="4" stroke-dasharray="4 8"/>
<path d="M440 628V613M440 74.2V89.2M700.6 628V613M700.6 74.2V89.2M961.3 628V613M961.3 74.2V89.2M1221.9 628V613M1221.9 74.2V89.2M1482.6 628V613M1482.6 74.2V89.2M1743.2 628V613M1743.2 74.2V89.2M2003.9 628V613M2003.9 74.2V89.2M181.3 489.6H196.3M2096 489.6H2081M181.3 351.1H196.3M2096 351.1H2081M181.3 212.6H196.3M2096 212.6H2081" stroke="#262626" stroke-width="3.84" fill="none"/>
<rect x="181.3" y="74.2" width="1914.7" height="553.8" fill="none" stroke="#262626" stroke-width="3.84"/>
<text x="179.3" y="689" font-size="44" text-anchor="middle" font-weight="normal" fill="#333" letter-spacing="2.4">0</text>
<text x="440" y="689" font-size="44" text-anchor="middle" font-weight="normal" fill="#333" letter-spacing="2.4">200</text>
<text x="700.6" y="689" font-size="44" text-anchor="middle" font-weight="normal" fill="#333" letter-spacing="2.4">400</text>
<text x="961.3" y="689" font-size="44" text-anchor="middle" font-weight="normal" fill="#333" letter-spacing="2.4">600</text>
<text x="1221.9" y="689" font-size="44" text-anchor="middle" font-weight="normal" fill="#333" letter-spacing="2.4">800</text>
<text x="1482.6" y="689" font-size="44" text-anchor="middle" font-weight="normal" fill="#333" letter-spacing="2.4">1000</text>
<text x="1743.2" y="689" font-size="44" text-anchor="middle" font-weight="normal" fill="#333" letter-spacing="2.4">1200</text>
<text x="2003.9" y="689" font-size="44" text-anchor="middle" font-weight="normal" fill="#333" letter-spacing="2.4">1400</text>
<text x="171" y="645.5" font-size="44" text-anchor="end" font-weight="normal" fill="#333" letter-spacing="2.5">0</text>
<text x="171" y="507.1" font-size="44" text-anchor="end" font-weight="normal" fill="#333" letter-spacing="2.5">100</text>
<text x="171" y="368.6" font-size="44" text-anchor="end" font-weight="normal" fill="#333" letter-spacing="2.5">200</text>
<text x="171" y="230.1" font-size="44" text-anchor="end" font-weight="normal" fill="#333" letter-spacing="2.5">300</text>
<text x="171" y="91.7" font-size="44" text-anchor="end" font-weight="normal" fill="#333" letter-spacing="2.5">400</text>
<text x="1129" y="52" font-size="50" text-anchor="middle" font-weight="bold" fill="#111" >Test Data</text>
<text x="1136.6" y="752.9" font-size="48" text-anchor="middle" font-weight="normal" fill="#333" >t,s</text>
<text x="0" y="0" font-size="48" text-anchor="middle" font-weight="normal" fill="#333" transform="translate(72 352.5) rotate(-90)">NOx, ppm</text>
<rect x="1618.4" y="102.2" width="433.6" height="127.6" fill="#fff" stroke="#262626" stroke-width="3.84"/>
<line x1="1633" y1="138" x2="1794" y2="138" stroke="#000" stroke-width="5"/>
<line x1="1633" y1="194" x2="1786" y2="194" stroke="#ff0000" stroke-width="4" stroke-dasharray="4 12"/>
<text x="1803" y="151.2" font-size="43" text-anchor="start" font-weight="normal" fill="#333" >Orginal data</text>
<text x="1804" y="211.4" font-size="43" text-anchor="start" font-weight="normal" fill="#333" >Prediction</text>
<line x1="387.3" y1="862.8" x2="387.3" y2="1400" stroke="#d8d8d8" stroke-width="3.84"/>
<line x1="593.2" y1="862.8" x2="593.2" y2="1400" stroke="#d8d8d8" stroke-width="3.84"/>
<line x1="799.2" y1="862.8" x2="799.2" y2="1400" stroke="#d8d8d8" stroke-width="3.84"/>
<line x1="181.3" y1="1265.7" x2="1005.2" y2="1265.7" stroke="#d8d8d8" stroke-width="3.84"/>
<line x1="181.3" y1="1131.4" x2="1005.2" y2="1131.4" stroke="#d8d8d8" stroke-width="3.84"/>
<line x1="181.3" y1="997.1" x2="1005.2" y2="997.1" stroke="#d8d8d8" stroke-width="3.84"/>
<path d="M216.3 1330.5 L228.2 1300 L239 1285 L254 1274 L291 1263 L304 1254.5 L321.6 1250 L347.6 1232.8 L369 1200 L395 1174 L406 1161 L438.8 1154.7 L460.5 1139.5 L482 1126.4 L514.8 1122 L536.5 1111 L575.6 1100 L586.4 1092.8 L645 1085 L671 1091.7 L671 1135 L671 1163 L664.6 1191.6 L612.5 1196 L569 1211 L551.7 1239.3 L521.3 1252.4 L508.3 1278.4 L477.9 1282.8 L438.8 1293.6 L434.5 1315.3 L406.3 1321.8 L378 1330.5 L341 1341.4 L308.6 1354.4 L286.8 1361 L254.3 1364.2 L221.7 1365.3 L216.3 1352.2Z" fill="#000"/>
<path d="M230.7 1340.2 L237.8 1314.4 L248.6 1299.4 L263.6 1288.4 L300.6 1277.4 L313.6 1268.9 L331.2 1264.4 L357.2 1247.2 L378.6 1214.4 L404.6 1188.4 L415.6 1175.4 L448.4 1169.1 L470.1 1153.9 L491.6 1140.8 L524.4 1136.4 L546.1 1125.4 L585.2 1114.4 L596 1107.2 L650 1092.5 L653.7 1090.8 L661.4 1120.6 L661.4 1148.6 L655 1177.2 L602.9 1181.6 L559.4 1196.6 L542.1 1224.9 L511.7 1238 L498.7 1264 L468.3 1268.4 L429.2 1279.2 L424.9 1300.9 L396.7 1307.4 L368.4 1316.1 L331.4 1327 L299 1340 L277.2 1346.6 L253 1355.3 L238.2 1360 L233.6 1353.6Z" fill="#000"/>
<path d="M213.3 1338.6a16.5 16.5 0 1 0 33 0a16.5 16.5 0 1 0 -33 0M214 1332.9a16.5 16.5 0 1 0 33 0a16.5 16.5 0 1 0 -33 0M216.3 1330a16.5 16.5 0 1 0 33 0a16.5 16.5 0 1 0 -33 0M217.5 1327.4a16.5 16.5 0 1 0 33 0a16.5 16.5 0 1 0 -33 0M219.3 1321a16.5 16.5 0 1 0 33 0a16.5 16.5 0 1 0 -33 0M220.4 1312.7a16.5 16.5 0 1 0 33 0a16.5 16.5 0 1 0 -33 0M227.8 1311.2a16.5 16.5 0 1 0 33 0a16.5 16.5 0 1 0 -33 0M228.3 1303.4a16.5 16.5 0 1 0 33 0a16.5 16.5 0 1 0 -33 0M236.5 1301.9a16.5 16.5 0 1 0 33 0a16.5 16.5 0 1 0 -33 0M239.1 1294.9a16.5 16.5 0 1 0 33 0a16.5 16.5 0 1 0 -33 0M243.8 1288.2a16.5 16.5 0 1 0 33 0a16.5 16.5 0 1 0 -33 0M250.1 1287.2a16.5 16.5 0 1 0 33 0a16.5 16.5 0 1 0 -33 0M252.9 1285.1a16.5 16.5 0 1 0 33 0a16.5 16.5 0 1 0 -33 0M262.5 1287.4a16.5 16.5 0 1 0 33 0a16.5 16.5 0 1 0 -33 0M267.2 1284.3a16.5 16.5 0 1 0 33 0a16.5 16.5 0 1 0 -33 0M274.3 1280.7a16.5 16.5 0 1 0 33 0a16.5 16.5 0 1 0 -33 0M278.8 1277a16.5 16.5 0 1 0 33 0a16.5 16.5 0 1 0 -33 0M283.8 1276.5a16.5 16.5 0 1 0 33 0a16.5 16.5 0 1 0 -33 0M293.6 1272a16.5 16.5 0 1 0 33 0a16.5 16.5 0 1 0 -33 0M299.2 1270.2a16.5 16.5 0 1 0 33 0a16.5 16.5 0 1 0 -33 0M304.4 1266.8a16.5 16.5 0 1 0 33 0a16.5 16.5 0 1 0 -33 0M313.1 1267.5a16.5 16.5 0 1 0 33 0a16.5 16.5 0 1 0 -33 0M316.4 1265.4a16.5 16.5 0 1 0 33 0a16.5 16.5 0 1 0 -33 0M323.7 1263.3a16.5 16.5 0 1 0 33 0a16.5 16.5 0 1 0 -33 0M327.2 1255.8a16.5 16.5 0 1 0 33 0a16.5 16.5 0 1 0 -33 0M332.4 1250.8a16.5 16.5 0 1 0 33 0a16.5 16.5 0 1 0 -33 0M338.5 1252.4a16.5 16.5 0 1 0 33 0a16.5 16.5 0 1 0 -33 0M341.6 1247.7a16.5 16.5 0 1 0 33 0a16.5 16.5 0 1 0 -33 0M345.7 1243.7a16.5 16.5 0 1 0 33 0a16.5 16.5 0 1 0 -33 0M350.4 1235.3a16.5 16.5 0 1 0 33 0a16.5 16.5 0 1 0 -33 0M353.2 1227.9a16.5 16.5 0 1 0 33 0a16.5 16.5 0 1 0 -33 0M357.5 1224.7a16.5 16.5 0 1 0 33 0a16.5 16.5 0 1 0 -33 0M360.2 1218.8a16.5 16.5 0 1 0 33 0a16.5 16.5 0 1 0 -33 0M366.8 1216a16.5 16.5 0 1 0 33 0a16.5 16.5 0 1 0 -33 0M369 1210.9a16.5 16.5 0 1 0 33 0a16.5 16.5 0 1 0 -33 0M372.4 1207.9a16.5 16.5 0 1 0 33 0a16.5 16.5 0 1 0 -33 0M379.5 1203.8a16.5 16.5 0 1 0 33 0a16.5 16.5 0 1 0 -33 0M381.3 1194.7a16.5 16.5 0 1 0 33 0a16.5 16.5 0 1 0 -33 0M386.1 1193.9a16.5 16.5 0 1 0 33 0a16.5 16.5 0 1 0 -33 0M388.7 1189.2a16.5 16.5 0 1 0 33 0a16.5 16.5 0 1 0 -33 0M393.2 1180a16.5 16.5 0 1 0 33 0a16.5 16.5 0 1 0 -33 0M401.1 1178.1a16.5 16.5 0 1 0 33 0a16.5 16.5 0 1 0 -33 0M405.8 1173.6a16.5 16.5 0 1 0 33 0a16.5 16.5 0 1 0 -33 0M415.9 1176a16.5 16.5 0 1 0 33 0a16.5 16.5 0 1 0 -33 0M419.5 1172.3a16.5 16.5 0 1 0 33 0a16.5 16.5 0 1 0 -33 0M429.7 1173.4a16.5 16.5 0 1 0 33 0a16.5 16.5 0 1 0 -33 0M436.7 1170.6a16.5 16.5 0 1 0 33 0a16.5 16.5 0 1 0 -33 0M438.5 1165.2a16.5 16.5 0 1 0 33 0a16.5 16.5 0 1 0 -33 0M446.1 1164.1a16.5 16.5 0 1 0 33 0a16.5 16.5 0 1 0 -33 0M450.5 1154.4a16.5 16.5 0 1 0 33 0a16.5 16.5 0 1 0 -33 0M453.7 1153a16.5 16.5 0 1 0 33 0a16.5 16.5 0 1 0 -33 0M460.3 1151.2a16.5 16.5 0 1 0 33 0a16.5 16.5 0 1 0 -33 0M465.9 1145.8a16.5 16.5 0 1 0 33 0a16.5 16.5 0 1 0 -33 0M470.1 1144.6a16.5 16.5 0 1 0 33 0a16.5 16.5 0 1 0 -33 0M477.5 1142.1a16.5 16.5 0 1 0 33 0a16.5 16.5 0 1 0 -33 0M486.8 1141.7a16.5 16.5 0 1 0 33 0a16.5 16.5 0 1 0 -33 0M491.4 1140.6a16.5 16.5 0 1 0 33 0a16.5 16.5 0 1 0 -33 0M496.3 1136.1a16.5 16.5 0 1 0 33 0a16.5 16.5 0 1 0 -33 0M506.7 1139.6a16.5 16.5 0 1 0 33 0a16.5 16.5 0 1 0 -33 0M512.6 1137.9a16.5 16.5 0 1 0 33 0a16.5 16.5 0 1 0 -33 0M514.8 1133.5a16.5 16.5 0 1 0 33 0a16.5 16.5 0 1 0 -33 0M520.3 1132.6a16.5 16.5 0 1 0 33 0a16.5 16.5 0 1 0 -33 0M523.3 1126.4a16.5 16.5 0 1 0 33 0a16.5 16.5 0 1 0 -33 0M529.7 1124.2a16.5 16.5 0 1 0 33 0a16.5 16.5 0 1 0 -33 0M536.3 1121.5a16.5 16.5 0 1 0 33 0a16.5 16.5 0 1 0 -33 0M541.9 1120.7a16.5 16.5 0 1 0 33 0a16.5 16.5 0 1 0 -33 0M549.6 1120a16.5 16.5 0 1 0 33 0a16.5 16.5 0 1 0 -33 0M557.9 1121.4a16.5 16.5 0 1 0 33 0a16.5 16.5 0 1 0 -33 0M563.8 1114.5a16.5 16.5 0 1 0 33 0a16.5 16.5 0 1 0 -33 0M569.5 1114a16.5 16.5 0 1 0 33 0a16.5 16.5 0 1 0 -33 0M574.4 1108.8a16.5 16.5 0 1 0 33 0a16.5 16.5 0 1 0 -33 0M585.5 1110.9a16.5 16.5 0 1 0 33 0a16.5 16.5 0 1 0 -33 0M588.4 1107.1a16.5 16.5 0 1 0 33 0a16.5 16.5 0 1 0 -33 0M591.9 1104a16.5 16.5 0 1 0 33 0a16.5 16.5 0 1 0 -33 0M600.1 1104a16.5 16.5 0 1 0 33 0a16.5 16.5 0 1 0 -33 0M608 1102.3a16.5 16.5 0 1 0 33 0a16.5 16.5 0 1 0 -33 0M613.8 1105.5a16.5 16.5 0 1 0 33 0a16.5 16.5 0 1 0 -33 0M619.8 1100.6a16.5 16.5 0 1 0 33 0a16.5 16.5 0 1 0 -33 0M625.2 1098a16.5 16.5 0 1 0 33 0a16.5 16.5 0 1 0 -33 0M630.1 1094.7a16.5 16.5 0 1 0 33 0a16.5 16.5 0 1 0 -33 0M635.4 1091.2a16.5 16.5 0 1 0 33 0a16.5 16.5 0 1 0 -33 0M636.2 1090.7a16.5 16.5 0 1 0 33 0a16.5 16.5 0 1 0 -33 0M636.2 1090.7a16.5 16.5 0 1 0 33 0a16.5 16.5 0 1 0 -33 0M636.2 1090.7a16.5 16.5 0 1 0 33 0a16.5 16.5 0 1 0 -33 0M638.1 1090.9a16.5 16.5 0 1 0 33 0a16.5 16.5 0 1 0 -33 0M636.2 1090.7a16.5 16.5 0 1 0 33 0a16.5 16.5 0 1 0 -33 0M639 1093.3a16.5 16.5 0 1 0 33 0a16.5 16.5 0 1 0 -33 0M641.7 1097.5a16.5 16.5 0 1 0 33 0a16.5 16.5 0 1 0 -33 0M643.9 1101.9a16.5 16.5 0 1 0 33 0a16.5 16.5 0 1 0 -33 0M646.2 1111.4a16.5 16.5 0 1 0 33 0a16.5 16.5 0 1 0 -33 0M645.2 1114.8a16.5 16.5 0 1 0 33 0a16.5 16.5 0 1 0 -33 0M643.5 1119.4a16.5 16.5 0 1 0 33 0a16.5 16.5 0 1 0 -33 0M644.5 1130.9a16.5 16.5 0 1 0 33 0a16.5 16.5 0 1 0 -33 0M642.3 1134.4a16.5 16.5 0 1 0 33 0a16.5 16.5 0 1 0 -33 0M644.8 1145.4a16.5 16.5 0 1 0 33 0a16.5 16.5 0 1 0 -33 0M645.2 1150.2a16.5 16.5 0 1 0 33 0a16.5 16.5 0 1 0 -33 0M643.7 1157.3a16.5 16.5 0 1 0 33 0a16.5 16.5 0 1 0 -33 0M638.8 1162a16.5 16.5 0 1 0 33 0a16.5 16.5 0 1 0 -33 0M638.7 1172.7a16.5 16.5 0 1 0 33 0a16.5 16.5 0 1 0 -33 0M634.1 1174.5a16.5 16.5 0 1 0 33 0a16.5 16.5 0 1 0 -33 0M630.4 1175.7a16.5 16.5 0 1 0 33 0a16.5 16.5 0 1 0 -33 0M620.1 1175.8a16.5 16.5 0 1 0 33 0a16.5 16.5 0 1 0 -33 0M615.5 1178.2a16.5 16.5 0 1 0 33 0a16.5 16.5 0 1 0 -33 0M609.9 1176.6a16.5 16.5 0 1 0 33 0a16.5 16.5 0 1 0 -33 0M602.8 1177.1a16.5 16.5 0 1 0 33 0a16.5 16.5 0 1 0 -33 0M595.4 1180.4a16.5 16.5 0 1 0 33 0a16.5 16.5 0 1 0 -33 0M588.9 1177.3a16.5 16.5 0 1 0 33 0a16.5 16.5 0 1 0 -33 0M584.4 1183.5a16.5 16.5 0 1 0 33 0a16.5 16.5 0 1 0 -33 0M580.5 1185a16.5 16.5 0 1 0 33 0a16.5 16.5 0 1 0 -33 0M568.7 1184.1a16.5 16.5 0 1 0 33 0a16.5 16.5 0 1 0 -33 0M565.2 1185.1a16.5 16.5 0 1 0 33 0a16.5 16.5 0 1 0 -33 0M556.6 1189.4a16.5 16.5 0 1 0 33 0a16.5 16.5 0 1 0 -33 0M553.2 1191.4a16.5 16.5 0 1 0 33 0a16.5 16.5 0 1 0 -33 0M550 1196.6a16.5 16.5 0 1 0 33 0a16.5 16.5 0 1 0 -33 0M539.6 1197.9a16.5 16.5 0 1 0 33 0a16.5 16.5 0 1 0 -33 0M535.9 1200.3a16.5 16.5 0 1 0 33 0a16.5 16.5 0 1 0 -33 0M532.9 1206a16.5 16.5 0 1 0 33 0a16.5 16.5 0 1 0 -33 0M531.3 1217.1a16.5 16.5 0 1 0 33 0a16.5 16.5 0 1 0 -33 0M528.7 1220.3a16.5 16.5 0 1 0 33 0a16.5 16.5 0 1 0 -33 0M523.7 1223.7a16.5 16.5 0 1 0 33 0a16.5 16.5 0 1 0 -33 0M518.3 1227.4a16.5 16.5 0 1 0 33 0a16.5 16.5 0 1 0 -33 0M510.6 1226.7a16.5 16.5 0 1 0 33 0a16.5 16.5 0 1 0 -33 0M505.6 1232.5a16.5 16.5 0 1 0 33 0a16.5 16.5 0 1 0 -33 0M496.8 1232.7a16.5 16.5 0 1 0 33 0a16.5 16.5 0 1 0 -33 0M492 1236a16.5 16.5 0 1 0 33 0a16.5 16.5 0 1 0 -33 0M490.2 1245.2a16.5 16.5 0 1 0 33 0a16.5 16.5 0 1 0 -33 0M489 1254.9a16.5 16.5 0 1 0 33 0a16.5 16.5 0 1 0 -33 0M485.2 1260.1a16.5 16.5 0 1 0 33 0a16.5 16.5 0 1 0 -33 0M480.3 1261.1a16.5 16.5 0 1 0 33 0a16.5 16.5 0 1 0 -33 0M475 1264.1a16.5 16.5 0 1 0 33 0a16.5 16.5 0 1 0 -33 0M466.5 1264.7a16.5 16.5 0 1 0 33 0a16.5 16.5 0 1 0 -33 0M462 1265.6a16.5 16.5 0 1 0 33 0a16.5 16.5 0 1 0 -33 0M454 1265a16.5 16.5 0 1 0 33 0a16.5 16.5 0 1 0 -33 0M450.5 1267.1a16.5 16.5 0 1 0 33 0a16.5 16.5 0 1 0 -33 0M444.6 1270.8a16.5 16.5 0 1 0 33 0a16.5 16.5 0 1 0 -33 0M435.1 1271.7a16.5 16.5 0 1 0 33 0a16.5 16.5 0 1 0 -33 0M428.3 1271.7a16.5 16.5 0 1 0 33 0a16.5 16.5 0 1 0 -33 0M421.8 1275.9a16.5 16.5 0 1 0 33 0a16.5 16.5 0 1 0 -33 0M416.2 1276.9a16.5 16.5 0 1 0 33 0a16.5 16.5 0 1 0 -33 0M410.8 1279.2a16.5 16.5 0 1 0 33 0a16.5 16.5 0 1 0 -33 0M410.1 1287.1a16.5 16.5 0 1 0 33 0a16.5 16.5 0 1 0 -33 0M407 1291.9a16.5 16.5 0 1 0 33 0a16.5 16.5 0 1 0 -33 0M403.3 1298.2a16.5 16.5 0 1 0 33 0a16.5 16.5 0 1 0 -33 0M397.7 1303.9a16.5 16.5 0 1 0 33 0a16.5 16.5 0 1 0 -33 0M389.5 1300.9a16.5 16.5 0 1 0 33 0a16.5 16.5 0 1 0 -33 0M384.5 1307.8a16.5 16.5 0 1 0 33 0a16.5 16.5 0 1 0 -33 0M379.3 1306.8a16.5 16.5 0 1 0 33 0a16.5 16.5 0 1 0 -33 0M373.2 1310.2a16.5 16.5 0 1 0 33 0a16.5 16.5 0 1 0 -33 0M364.4 1309.7a16.5 16.5 0 1 0 33 0a16.5 16.5 0 1 0 -33 0M353.4 1311.4a16.5 16.5 0 1 0 33 0a16.5 16.5 0 1 0 -33 0M349.8 1313.9a16.5 16.5 0 1 0 33 0a16.5 16.5 0 1 0 -33 0M344.1 1319.8a16.5 16.5 0 1 0 33 0a16.5 16.5 0 1 0 -33 0M333.7 1316.7a16.5 16.5 0 1 0 33 0a16.5 16.5 0 1 0 -33 0M330.1 1317.9a16.5 16.5 0 1 0 33 0a16.5 16.5 0 1 0 -33 0M325.2 1322.8a16.5 16.5 0 1 0 33 0a16.5 16.5 0 1 0 -33 0M315.4 1323.1a16.5 16.5 0 1 0 33 0a16.5 16.5 0 1 0 -33 0M313.9 1326.6a16.5 16.5 0 1 0 33 0a16.5 16.5 0 1 0 -33 0M306.4 1330.3a16.5 16.5 0 1 0 33 0a16.5 16.5 0 1 0 -33 0M301.3 1332.6a16.5 16.5 0 1 0 33 0a16.5 16.5 0 1 0 -33 0M294 1337.8a16.5 16.5 0 1 0 33 0a16.5 16.5 0 1 0 -33 0M286.4 1337.6a16.5 16.5 0 1 0 33 0a16.5 16.5 0 1 0 -33 0M282.5 1340a16.5 16.5 0 1 0 33 0a16.5 16.5 0 1 0 -33 0M271.8 1341.9a16.5 16.5 0 1 0 33 0a16.5 16.5 0 1 0 -33 0M265.1 1340.4a16.5 16.5 0 1 0 33 0a16.5 16.5 0 1 0 -33 0M255.1 1343a16.5 16.5 0 1 0 33 0a16.5 16.5 0 1 0 -33 0M254.1 1347.7a16.5 16.5 0 1 0 33 0a16.5 16.5 0 1 0 -33 0M247.6 1347.9a16.5 16.5 0 1 0 33 0a16.5 16.5 0 1 0 -33 0M242.1 1351.5a16.5 16.5 0 1 0 33 0a16.5 16.5 0 1 0 -33 0M236.9 1355a16.5 16.5 0 1 0 33 0a16.5 16.5 0 1 0 -33 0M236.5 1355.3a16.5 16.5 0 1 0 33 0a16.5 16.5 0 1 0 -33 0M236.5 1355.3a16.5 16.5 0 1 0 33 0a16.5 16.5 0 1 0 -33 0M236.5 1355.3a16.5 16.5 0 1 0 33 0a16.5 16.5 0 1 0 -33 0M231.5 1357.9a16.5 16.5 0 1 0 33 0a16.5 16.5 0 1 0 -33 0M226 1359.1a16.5 16.5 0 1 0 33 0a16.5 16.5 0 1 0 -33 0M225.9 1358.6a16.5 16.5 0 1 0 33 0a16.5 16.5 0 1 0 -33 0M222.3 1355.7a16.5 16.5 0 1 0 33 0a16.5 16.5 0 1 0 -33 0M220.9 1353.8a16.5 16.5 0 1 0 33 0a16.5 16.5 0 1 0 -33 0M220.2 1350.6a16.5 16.5 0 1 0 33 0a16.5 16.5 0 1 0 -33 0M215.1 1343.9a16.5 16.5 0 1 0 33 0a16.5 16.5 0 1 0 -33 0M288.8 1212.2a16.5 16.5 0 1 0 33 0a16.5 16.5 0 1 0 -33 0M331.1 1201.3a16.5 16.5 0 1 0 33 0a16.5 16.5 0 1 0 -33 0M312.7 1237.2a16.5 16.5 0 1 0 33 0a16.5 16.5 0 1 0 -33 0M584.1 1222a16.5 16.5 0 1 0 33 0a16.5 16.5 0 1 0 -33 0M601.4 1256.7a16.5 16.5 0 1 0 33 0a16.5 16.5 0 1 0 -33 0M615.5 1293.6a16.5 16.5 0 1 0 33 0a16.5 16.5 0 1 0 -33 0M539.5 1303.4a16.5 16.5 0 1 0 33 0a16.5 16.5 0 1 0 -33 0M641.5 1098a16.5 16.5 0 1 0 33 0a16.5 16.5 0 1 0 -33 0M637.3 1183a16.5 16.5 0 1 0 33 0a16.5 16.5 0 1 0 -33 0" fill="none" stroke="#000" stroke-width="3.6"/>
<line x1="234.7" y1="1367.4" x2="656" y2="1088.5" stroke="#0000ff" stroke-width="8.5"/>
<path d="M387.3 1400V1390M387.3 862.8V872.8M593.2 1400V1390M593.2 862.8V872.8M799.2 1400V1390M799.2 862.8V872.8M181.3 1265.7H191.3M1005.2 1265.7H995.2M181.3 1131.4H191.3M1005.2 1131.4H995.2M181.3 997.1H191.3M1005.2 997.1H995.2" stroke="#262626" stroke-width="3.84" fill="none"/>
<rect x="181.3" y="862.8" width="823.9" height="537.2" fill="none" stroke="#262626" stroke-width="3.84"/>
<text x="179.5" y="1469" font-size="48" text-anchor="middle" font-weight="normal" fill="#333" >0</text>
<text x="159.5" y="1417.5" font-size="48" text-anchor="end" font-weight="normal" fill="#333" letter-spacing="0.5">0</text>
<text x="386.1" y="1469" font-size="48" text-anchor="middle" font-weight="normal" fill="#333" >100</text>
<text x="159.5" y="1283.2" font-size="48" text-anchor="end" font-weight="normal" fill="#333" letter-spacing="0.5">100</text>
<text x="592.3" y="1469" font-size="48" text-anchor="middle" font-weight="normal" fill="#333" >200</text>
<text x="159.5" y="1148.9" font-size="48" text-anchor="end" font-weight="normal" fill="#333" letter-spacing="0.5">200</text>
<text x="798.6" y="1469" font-size="48" text-anchor="middle" font-weight="normal" fill="#333" >300</text>
<text x="159.5" y="1014.6" font-size="48" text-anchor="end" font-weight="normal" fill="#333" letter-spacing="0.5">300</text>
<text x="1005" y="1469" font-size="48" text-anchor="middle" font-weight="normal" fill="#333" >400</text>
<text x="159.5" y="880.3" font-size="48" text-anchor="end" font-weight="normal" fill="#333" letter-spacing="0.5">400</text>
<text x="434.5" y="840.5" font-size="50" text-anchor="start" font-weight="bold" fill="#111" letter-spacing="1.2">R<tspan font-size="42" dy="-24.5">2</tspan><tspan dy="24.5"> = 0.84919</tspan></text>
<text x="574.4" y="1546" font-size="55" text-anchor="middle" font-weight="normal" fill="#333" >Original data</text>
<text x="0" y="0" font-size="53.6" text-anchor="middle" font-weight="normal" fill="#333" transform="translate(60.5 1131) rotate(-90)">Prediction</text>
<line x1="1546.7" y1="862.8" x2="1546.7" y2="1400" stroke="#d8d8d8" stroke-width="3.84"/>
<line x1="1821.3" y1="862.8" x2="1821.3" y2="1400" stroke="#d8d8d8" stroke-width="3.84"/>
<line x1="1272" y1="1287.4" x2="2096" y2="1287.4" stroke="#d8d8d8" stroke-width="3.84"/>
<line x1="1272" y1="1174.8" x2="2096" y2="1174.8" stroke="#d8d8d8" stroke-width="3.84"/>
<line x1="1272" y1="1062.2" x2="2096" y2="1062.2" stroke="#d8d8d8" stroke-width="3.84"/>
<line x1="1272" y1="949.6" x2="2096" y2="949.6" stroke="#d8d8d8" stroke-width="3.84"/>
<path d="M1272.2 1149.2 L1272.5 1266.4 L1274.1 1245.8 L1275.9 1150.5 L1277.7 1211.5 L1279.5 1137.1 L1279.8 1198.8 L1281.1 1198.4 L1282.7 1145.4 L1284.3 1139.5 L1284.6 1215.7 L1285.9 1216.6 L1287.6 1149.4 L1289.2 1154 L1289.5 1220.5 L1291 1211.4 L1292.8 1142 L1293.1 1220.5 L1294.4 1208.5 L1296 1159.6 L1297.6 1166.1 L1297.9 1191.5 L1299.2 1198.9 L1300.8 1163.9 L1302.5 1156.5 L1302.8 1232.6 L1304.1 1205.9 L1305.7 1156.2 L1307.3 1151.6 L1307.6 1174.6 L1308.7 1190 L1310.2 1016.3 L1310.5 1227.8 L1312.4 1079.1 L1312.7 1227.8 L1314.1 1224.4 L1315.7 1079.1 L1316 1227.8 L1317.4 1200.5 L1319 1094.7 L1320.6 1079.1 L1320.9 1184.3 L1322.6 1183.9 L1324.6 1102.6 L1326.6 1096 L1326.9 1208.4 L1328.2 1207 L1329.8 1119.7 L1331.5 1129.9 L1331.8 1237.4 L1333.5 1227.3 L1335.5 1161.6 L1337.5 1166.1 L1337.8 1239.9 L1339.1 1245.7 L1340.7 1161.8 L1342.3 1158.9 L1342.6 1268.9 L1344.3 1244.7 L1346.4 1144.4 L1348.4 1125 L1348.7 1239.9 L1350.4 1218.6 L1352.4 1133.4 L1354.4 1117.8 L1354.7 1210.9 L1356 1200.3 L1357.6 1120.9 L1359.2 1100.9 L1359.5 1210.9 L1360.9 1220.5 L1362.5 1147.7 L1364.1 1151.6 L1364.4 1259.2 L1365.7 1247.8 L1367.3 1154.5 L1368.9 1132.3 L1369.2 1247.1 L1370.9 1218 L1372.9 1133.5 L1375 1132.3 L1375.3 1198.8 L1376.8 1197.3 L1378.6 1117.8 L1378.9 1198.8 L1380.2 1195.8 L1381.8 1154.1 L1383.4 1161.3 L1383.7 1196.4 L1385 1200.2 L1386.6 1168.7 L1388.2 1166.1 L1388.5 1215.7 L1390.1 1233.1 L1391.9 1166.1 L1392.2 1256.8 L1393.5 1245.3 L1395.1 1187.4 L1396.7 1192.7 L1397 1239.9 L1398.7 1236.6 L1400.7 1168.9 L1402.7 1146.8 L1403 1239.9 L1404.4 1225.8 L1406 1157.7 L1407.6 1146.8 L1407.9 1220.5 L1409.4 1199.2 L1411.2 1132.3 L1411.5 1191.5 L1412.8 1207.2 L1414.4 1159.4 L1416 1154 L1416.3 1271.3 L1417.9 1257.3 L1419.7 1200 L1420 1271.3 L1421.7 1247.6 L1423.7 1175.7 L1425.7 1161.3 L1426 1220.5 L1427.3 1219.7 L1428.9 1169.4 L1430.5 1156.5 L1430.8 1244.7 L1432.1 1218.1 L1433.8 1152.4 L1435.4 1142 L1435.7 1196.4 L1437.5 1193.9 L1439.6 1136.9 L1441.7 1199.3 L1443.8 1127.5 L1444.1 1213.3 L1445.4 1210.1 L1447.1 1142.3 L1448.7 1144.4 L1449 1225.4 L1450.5 1227 L1452.3 1156.4 L1454.1 1219.8 L1455.9 1146.8 L1456.2 1235 L1457.5 1233.9 L1459.1 1165.9 L1460.7 1161.3 L1461 1235 L1462.4 1250.7 L1464.1 1175.7 L1465.7 1293.2 L1467.4 1185.5 L1467.7 1319.6 L1469 1272 L1470.6 1171.6 L1472.2 1146.8 L1472.5 1215.7 L1473.9 1195.9 L1475.5 1120.3 L1477.1 1098.5 L1477.4 1157.7 L1478.9 1165.7 L1480.7 1101.3 L1482.5 1178.4 L1484.3 1086.4 L1484.6 1191.5 L1486.3 1180.6 L1488.4 1130.9 L1490.4 1137.1 L1490.7 1193.9 L1492 1192.3 L1493.6 1138.4 L1495.2 1122.6 L1495.5 1203.6 L1496.8 1203.9 L1498.4 1133.2 L1500 1137.1 L1500.3 1215.7 L1501.7 1224.3 L1503.3 1144.1 L1504.9 1146.8 L1505.2 1266.4 L1506.9 1248.9 L1508.9 1158.4 L1510.9 1156.5 L1511.2 1222.9 L1512.9 1216.6 L1514.9 1153.3 L1517 1149.2 L1517.3 1222.9 L1519 1231.2 L1521 1133.1 L1523 1100.9 L1523.3 1249.5 L1525 1236.7 L1527 1131.4 L1529 1120.2 L1529.3 1230.2 L1531.1 1211.7 L1533.1 1074.8 L1535.1 1038 L1535.4 1230.2 L1537.1 1209 L1539.1 1100.4 L1541.1 1117.8 L1541.4 1198.8 L1543.1 1204.2 L1545.2 1143.6 L1547.2 1144.4 L1547.5 1239.9 L1549 1225.2 L1550.8 1163.9 L1552.6 1209 L1554.4 1171 L1554.7 1208.4 L1556.4 1226.3 L1558.4 1153.8 L1560.5 1134.7 L1560.8 1278.5 L1562.5 1245.6 L1564.5 1161.7 L1566.5 1171 L1566.8 1215.7 L1568.1 1213.8 L1569.7 1181.6 L1571.3 1178.2 L1571.6 1215.7 L1572.9 1208.5 L1574.6 1133.6 L1576.2 1100.9 L1576.5 1208.4 L1577.8 1202.7 L1579.4 1135.6 L1581 1146.8 L1581.3 1191.5 L1582.6 1207.3 L1584.2 1159.9 L1585.8 1166.1 L1586.1 1254.4 L1587.4 1246.5 L1589.1 1180.3 L1590.7 1175.8 L1591 1254.4 L1592.3 1249.5 L1593.9 1159.1 L1595.5 1137.1 L1595.8 1242.3 L1597.3 1226.5 L1599.1 1147.1 L1600.9 1211.1 L1602.7 1139.5 L1603 1206 L1604.6 1199.9 L1606.4 1153.5 L1608.2 1207.7 L1610 1154 L1610.3 1208.4 L1612 1235.9 L1614 1169.6 L1616 1161.3 L1616.3 1293 L1618.1 1266.4 L1620.1 1156.4 L1622.1 1146.8 L1622.4 1268.9 L1623.9 1250.7 L1625.7 1148.1 L1627.5 1233.1 L1629.3 1129.9 L1629.6 1227.8 L1630.9 1217.1 L1632.6 1133.9 L1634.2 1129.9 L1634.5 1210.9 L1635.8 1206 L1637.4 1125.4 L1639 1110.5 L1639.3 1210.9 L1640.8 1204.8 L1642.6 1101.3 L1644.4 1193.3 L1646.2 1079.1 L1646.5 1206 L1648.3 1229.6 L1650.3 1083.8 L1652.3 1062.2 L1652.6 1278.5 L1654.3 1279.3 L1656.3 1128.3 L1658.3 1146.8 L1658.6 1351 L1660.4 1315.1 L1662.4 1166.3 L1664.5 1256.5 L1666.5 1151.6 L1666.8 1230.2 L1668.4 1222.2 L1670.3 1133.4 L1672.2 1115.4 L1672.5 1213.3 L1674.1 1199.7 L1675.9 1114.4 L1677.7 1198 L1679.5 1110.5 L1679.8 1198.8 L1681.1 1195.3 L1682.7 1154 L1684.3 1166.1 L1684.6 1198.8 L1685.9 1207.3 L1687.6 1156.6 L1689.2 1137.1 L1689.5 1235 L1690.8 1220.5 L1692.4 1124 L1694 1110.5 L1694.3 1198.8 L1695.6 1194.7 L1697.2 1138.7 L1698.8 1137.1 L1699.1 1210.9 L1700.4 1199.3 L1702.1 1122.1 L1703.7 1110.5 L1704 1191.5 L1705.8 1202.8 L1707.9 968.3 L1710.1 864.5 L1710.4 1235 L1712.6 1103.3 L1712.9 1235 L1714.2 1230.8 L1715.7 1069.5 L1716 1235 L1717.4 1200 L1719 1115 L1720.6 1120.2 L1720.9 1177 L1722.4 1178.6 L1724.2 1095.1 L1726 1174.4 L1727.8 1062.2 L1728.1 1191.5 L1729.6 1191.7 L1731.5 1112.6 L1733.3 1222 L1735.1 1134.7 L1735.4 1239.9 L1736.9 1249.2 L1738.7 1154.2 L1740.5 1260.3 L1742.3 1163.7 L1742.6 1285.8 L1744.1 1258.1 L1746 1161.9 L1747.8 1211.3 L1749.6 1151.6 L1749.9 1191.5 L1751.4 1197.7 L1753.2 1162 L1755 1211 L1756.8 1166.1 L1757.1 1227.8 L1758.6 1227.4 L1760.5 1156.5 L1762.3 1220.1 L1764.1 1146.8 L1764.4 1232.6 L1765.9 1233.1 L1767.7 1173.6 L1769.5 1263.8 L1771.3 1171 L1771.6 1283.4 L1773.1 1261.5 L1775 1176.6 L1776.8 1261.6 L1778.6 1151.6 L1778.9 1259.2 L1780.4 1246.5 L1782.2 1154.6 L1784 1246.7 L1785.8 1127.5 L1786.1 1259.2 L1787.6 1250.6 L1789.5 1132.2 L1791.3 1257.5 L1793.1 1125 L1793.4 1266.4 L1794.9 1253 L1796.7 1134.7 L1798.5 1230.3 L1800.3 1142 L1800.6 1230.2 L1802.1 1226.7 L1804 1163.3 L1805.8 1229.7 L1807.6 1166.1 L1807.9 1230.2 L1809.4 1225.6 L1811.2 1179.1 L1813 1233.5 L1814.8 1178.2 L1815.1 1247.1 L1816.6 1235.2 L1818.5 1154.1 L1820.3 1236.1 L1822.1 1100.9 L1822.4 1247.1 L1823.9 1234.2 L1825.7 1134.8 L1827.5 1207.2 L1829.3 1146.8 L1829.6 1196.4 L1831.1 1194.1 L1833 1148.5 L1834.8 1192 L1836.6 1139.5 L1836.9 1196.4 L1838.4 1211.6 L1840.2 1156.3 L1842 1246 L1843.8 1146.8 L1844.1 1276.1 L1845.4 1260 L1847.1 1110.7 L1848.7 1084 L1849 1249.5 L1850.3 1222.5 L1851.9 1134.8 L1853.5 1149.2 L1853.8 1220.5 L1855.1 1211.8 L1856.7 1136.3 L1858.3 1122.6 L1858.6 1222.9 L1860.4 1216.8 L1862.4 1150.1 L1864.5 1205.1 L1866.5 1166.1 L1866.8 1208.4 L1868.2 1222.7 L1870 1177 L1871.7 1243.7 L1873.5 1171 L1873.8 1271.3 L1875.3 1245.7 L1877.1 1131.8 L1878.9 1236.7 L1880.7 1059.8 L1881 1225.4 L1882.8 1195.8 L1884.9 1092.8 L1887.1 1175.8 L1889.2 1096 L1889.5 1160.1 L1890.8 1172.8 L1892.4 1130.8 L1894 1144.4 L1894.3 1206 L1896 1213.6 L1898 1145.5 L1900 1137.1 L1900.3 1247.1 L1901.7 1239.2 L1903.3 1166.8 L1904.9 1166.1 L1905.2 1244.7 L1906.9 1238.2 L1908.9 1157.1 L1910.9 1151.6 L1911.2 1225.4 L1912.9 1227.1 L1914.9 1150 L1917 1146.8 L1917.3 1235 L1919 1230.1 L1921 1153 L1923 1137.1 L1923.3 1222.9 L1924.6 1210.5 L1926.2 1138.2 L1927.8 1137.1 L1928.1 1218.1 L1929.6 1185.6 L1931.5 1059.8 L1931.8 1167.4 L1933.1 1163.7 L1934.7 1092.6 L1936.3 1103.3 L1936.6 1169.8 L1938.3 1172 L1940.3 1125.4 L1942.3 1127.5 L1942.6 1186.7 L1944.3 1197.6 L1946.4 1131.1 L1948.4 1125 L1948.7 1239.9 L1950.4 1224.8 L1952.4 1124.9 L1954.4 1117.8 L1954.7 1203.6 L1956.4 1190.1 L1958.4 1121.5 L1960.5 1115.4 L1960.8 1167.4 L1962.3 1189.4 L1964.1 1168.5 L1964.4 1222.9 L1965.9 1225.2 L1967.7 1158.6 L1969.5 1238.7 L1971.3 1146.8 L1971.6 1247.1 L1972.9 1230.8 L1974.6 1129.1 L1976.2 1105.7 L1976.5 1215.7 L1978 1198.8 L1979.8 1125 L1981.6 1190.7 L1983.4 1134.7 L1983.7 1193.9 L1985.2 1180.9 L1987 1108.3 L1988.9 1169.2 L1990.7 1071.9 L1991 1167.4 L1992.3 1177.6 L1993.9 1108.7 L1995.5 1110.5 L1995.8 1220.5 L1997.3 1211.4 L1999.1 1139.8 L2000.9 1206.6 L2002.7 1151.6 L2003 1208.4 L2004.6 1218.7 L2006.4 1163.8 L2008.2 1237.6 L2010 1163.7 L2010.3 1259.2 L2011.8 1259.5 L2013.6 1198.2 L2015.4 1259.4 L2017.2 1224.1 L2017.5 1264 L2019.3 1248.7 L2021.3 1187.3 L2023.3 1154 L2023.6 1239.9 L2025.1 1219.1 L2026.9 1071.9 L2027.2 1210.9 L2028.7 1196.1 L2030.5 1127 L2032.4 1211.4 L2034.2 1158.9 L2034.5 1215.7 L2036.2 1215.8 L2038.2 1168 L2040.2 1171 L2040.5 1227.8 L2041.9 1211.9 L2043.6 1068.1 L2045.4 1191.5 L2047.1 930.8 L2047.4 1220.5 L2049.6 1096 L2049.9 1191.5 L2052.3 1096 L2052.6 1167.4 L2054.3 1171.3 L2056.3 1143.1 L2058.3 1158.9 L2058.6 1201.2 L2060.1 1206.6 L2062 1179.7 L2063.8 1231.3 L2065.6 1192.7 L2065.9 1242.3 L2067.5 1229.7 L2069.4 1023.1 L2071.3 938 L2071.6 1239.9 L2073.8 1146.8 L2074.1 1239.9 L2075.7 1242 L2077.7 1146.8 L2078 1248.3 L2079.8 1238.6 L2082 1181.8 L2082 1248.3" fill="none" stroke="#0000ff" stroke-opacity="0.35" stroke-width="7" stroke-linejoin="round"/>
<path d="M1272.2 1149.2 L1272.5 1266.4 L1274.1 1245.8 L1275.9 1150.5 L1277.7 1211.5 L1279.5 1137.1 L1279.8 1198.8 L1281.1 1198.4 L1282.7 1145.4 L1284.3 1139.5 L1284.6 1215.7 L1285.9 1216.6 L1287.6 1149.4 L1289.2 1154 L1289.5 1220.5 L1291 1211.4 L1292.8 1142 L1293.1 1220.5 L1294.4 1208.5 L1296 1159.6 L1297.6 1166.1 L1297.9 1191.5 L1299.2 1198.9 L1300.8 1163.9 L1302.5 1156.5 L1302.8 1232.6 L1304.1 1205.9 L1305.7 1156.2 L1307.3 1151.6 L1307.6 1174.6 L1308.7 1190 L1310.2 1016.3 L1310.5 1227.8 L1312.4 1079.1 L1312.7 1227.8 L1314.1 1224.4 L1315.7 1079.1 L1316 1227.8 L1317.4 1200.5 L1319 1094.7 L1320.6 1079.1 L1320.9 1184.3 L1322.6 1183.9 L1324.6 1102.6 L1326.6 1096 L1326.9 1208.4 L1328.2 1207 L1329.8 1119.7 L1331.5 1129.9 L1331.8 1237.4 L1333.5 1227.3 L1335.5 1161.6 L1337.5 1166.1 L1337.8 1239.9 L1339.1 1245.7 L1340.7 1161.8 L1342.3 1158.9 L1342.6 1268.9 L1344.3 1244.7 L1346.4 1144.4 L1348.4 1125 L1348.7 1239.9 L1350.4 1218.6 L1352.4 1133.4 L1354.4 1117.8 L1354.7 1210.9 L1356 1200.3 L1357.6 1120.9 L1359.2 1100.9 L1359.5 1210.9 L1360.9 1220.5 L1362.5 1147.7 L1364.1 1151.6 L1364.4 1259.2 L1365.7 1247.8 L1367.3 1154.5 L1368.9 1132.3 L1369.2 1247.1 L1370.9 1218 L1372.9 1133.5 L1375 1132.3 L1375.3 1198.8 L1376.8 1197.3 L1378.6 1117.8 L1378.9 1198.8 L1380.2 1195.8 L1381.8 1154.1 L1383.4 1161.3 L1383.7 1196.4 L1385 1200.2 L1386.6 1168.7 L1388.2 1166.1 L1388.5 1215.7 L1390.1 1233.1 L1391.9 1166.1 L1392.2 1256.8 L1393.5 1245.3 L1395.1 1187.4 L1396.7 1192.7 L1397 1239.9 L1398.7 1236.6 L1400.7 1168.9 L1402.7 1146.8 L1403 1239.9 L1404.4 1225.8 L1406 1157.7 L1407.6 1146.8 L1407.9 1220.5 L1409.4 1199.2 L1411.2 1132.3 L1411.5 1191.5 L1412.8 1207.2 L1414.4 1159.4 L1416 1154 L1416.3 1271.3 L1417.9 1257.3 L1419.7 1200 L1420 1271.3 L1421.7 1247.6 L1423.7 1175.7 L1425.7 1161.3 L1426 1220.5 L1427.3 1219.7 L1428.9 1169.4 L1430.5 1156.5 L1430.8 1244.7 L1432.1 1218.1 L1433.8 1152.4 L1435.4 1142 L1435.7 1196.4 L1437.5 1193.9 L1439.6 1136.9 L1441.7 1199.3 L1443.8 1127.5 L1444.1 1213.3 L1445.4 1210.1 L1447.1 1142.3 L1448.7 1144.4 L1449 1225.4 L1450.5 1227 L1452.3 1156.4 L1454.1 1219.8 L1455.9 1146.8 L1456.2 1235 L1457.5 1233.9 L1459.1 1165.9 L1460.7 1161.3 L1461 1235 L1462.4 1250.7 L1464.1 1175.7 L1465.7 1293.2 L1467.4 1185.5 L1467.7 1319.6 L1469 1272 L1470.6 1171.6 L1472.2 1146.8 L1472.5 1215.7 L1473.9 1195.9 L1475.5 1120.3 L1477.1 1098.5 L1477.4 1157.7 L1478.9 1165.7 L1480.7 1101.3 L1482.5 1178.4 L1484.3 1086.4 L1484.6 1191.5 L1486.3 1180.6 L1488.4 1130.9 L1490.4 1137.1 L1490.7 1193.9 L1492 1192.3 L1493.6 1138.4 L1495.2 1122.6 L1495.5 1203.6 L1496.8 1203.9 L1498.4 1133.2 L1500 1137.1 L1500.3 1215.7 L1501.7 1224.3 L1503.3 1144.1 L1504.9 1146.8 L1505.2 1266.4 L1506.9 1248.9 L1508.9 1158.4 L1510.9 1156.5 L1511.2 1222.9 L1512.9 1216.6 L1514.9 1153.3 L1517 1149.2 L1517.3 1222.9 L1519 1231.2 L1521 1133.1 L1523 1100.9 L1523.3 1249.5 L1525 1236.7 L1527 1131.4 L1529 1120.2 L1529.3 1230.2 L1531.1 1211.7 L1533.1 1074.8 L1535.1 1038 L1535.4 1230.2 L1537.1 1209 L1539.1 1100.4 L1541.1 1117.8 L1541.4 1198.8 L1543.1 1204.2 L1545.2 1143.6 L1547.2 1144.4 L1547.5 1239.9 L1549 1225.2 L1550.8 1163.9 L1552.6 1209 L1554.4 1171 L1554.7 1208.4 L1556.4 1226.3 L1558.4 1153.8 L1560.5 1134.7 L1560.8 1278.5 L1562.5 1245.6 L1564.5 1161.7 L1566.5 1171 L1566.8 1215.7 L1568.1 1213.8 L1569.7 1181.6 L1571.3 1178.2 L1571.6 1215.7 L1572.9 1208.5 L1574.6 1133.6 L1576.2 1100.9 L1576.5 1208.4 L1577.8 1202.7 L1579.4 1135.6 L1581 1146.8 L1581.3 1191.5 L1582.6 1207.3 L1584.2 1159.9 L1585.8 1166.1 L1586.1 1254.4 L1587.4 1246.5 L1589.1 1180.3 L1590.7 1175.8 L1591 1254.4 L1592.3 1249.5 L1593.9 1159.1 L1595.5 1137.1 L1595.8 1242.3 L1597.3 1226.5 L1599.1 1147.1 L1600.9 1211.1 L1602.7 1139.5 L1603 1206 L1604.6 1199.9 L1606.4 1153.5 L1608.2 1207.7 L1610 1154 L1610.3 1208.4 L1612 1235.9 L1614 1169.6 L1616 1161.3 L1616.3 1293 L1618.1 1266.4 L1620.1 1156.4 L1622.1 1146.8 L1622.4 1268.9 L1623.9 1250.7 L1625.7 1148.1 L1627.5 1233.1 L1629.3 1129.9 L1629.6 1227.8 L1630.9 1217.1 L1632.6 1133.9 L1634.2 1129.9 L1634.5 1210.9 L1635.8 1206 L1637.4 1125.4 L1639 1110.5 L1639.3 1210.9 L1640.8 1204.8 L1642.6 1101.3 L1644.4 1193.3 L1646.2 1079.1 L1646.5 1206 L1648.3 1229.6 L1650.3 1083.8 L1652.3 1062.2 L1652.6 1278.5 L1654.3 1279.3 L1656.3 1128.3 L1658.3 1146.8 L1658.6 1351 L1660.4 1315.1 L1662.4 1166.3 L1664.5 1256.5 L1666.5 1151.6 L1666.8 1230.2 L1668.4 1222.2 L1670.3 1133.4 L1672.2 1115.4 L1672.5 1213.3 L1674.1 1199.7 L1675.9 1114.4 L1677.7 1198 L1679.5 1110.5 L1679.8 1198.8 L1681.1 1195.3 L1682.7 1154 L1684.3 1166.1 L1684.6 1198.8 L1685.9 1207.3 L1687.6 1156.6 L1689.2 1137.1 L1689.5 1235 L1690.8 1220.5 L1692.4 1124 L1694 1110.5 L1694.3 1198.8 L1695.6 1194.7 L1697.2 1138.7 L1698.8 1137.1 L1699.1 1210.9 L1700.4 1199.3 L1702.1 1122.1 L1703.7 1110.5 L1704 1191.5 L1705.8 1202.8 L1707.9 968.3 L1710.1 864.5 L1710.4 1235 L1712.6 1103.3 L1712.9 1235 L1714.2 1230.8 L1715.7 1069.5 L1716 1235 L1717.4 1200 L1719 1115 L1720.6 1120.2 L1720.9 1177 L1722.4 1178.6 L1724.2 1095.1 L1726 1174.4 L1727.8 1062.2 L1728.1 1191.5 L1729.6 1191.7 L1731.5 1112.6 L1733.3 1222 L1735.1 1134.7 L1735.4 1239.9 L1736.9 1249.2 L1738.7 1154.2 L1740.5 1260.3 L1742.3 1163.7 L1742.6 1285.8 L1744.1 1258.1 L1746 1161.9 L1747.8 1211.3 L1749.6 1151.6 L1749.9 1191.5 L1751.4 1197.7 L1753.2 1162 L1755 1211 L1756.8 1166.1 L1757.1 1227.8 L1758.6 1227.4 L1760.5 1156.5 L1762.3 1220.1 L1764.1 1146.8 L1764.4 1232.6 L1765.9 1233.1 L1767.7 1173.6 L1769.5 1263.8 L1771.3 1171 L1771.6 1283.4 L1773.1 1261.5 L1775 1176.6 L1776.8 1261.6 L1778.6 1151.6 L1778.9 1259.2 L1780.4 1246.5 L1782.2 1154.6 L1784 1246.7 L1785.8 1127.5 L1786.1 1259.2 L1787.6 1250.6 L1789.5 1132.2 L1791.3 1257.5 L1793.1 1125 L1793.4 1266.4 L1794.9 1253 L1796.7 1134.7 L1798.5 1230.3 L1800.3 1142 L1800.6 1230.2 L1802.1 1226.7 L1804 1163.3 L1805.8 1229.7 L1807.6 1166.1 L1807.9 1230.2 L1809.4 1225.6 L1811.2 1179.1 L1813 1233.5 L1814.8 1178.2 L1815.1 1247.1 L1816.6 1235.2 L1818.5 1154.1 L1820.3 1236.1 L1822.1 1100.9 L1822.4 1247.1 L1823.9 1234.2 L1825.7 1134.8 L1827.5 1207.2 L1829.3 1146.8 L1829.6 1196.4 L1831.1 1194.1 L1833 1148.5 L1834.8 1192 L1836.6 1139.5 L1836.9 1196.4 L1838.4 1211.6 L1840.2 1156.3 L1842 1246 L1843.8 1146.8 L1844.1 1276.1 L1845.4 1260 L1847.1 1110.7 L1848.7 1084 L1849 1249.5 L1850.3 1222.5 L1851.9 1134.8 L1853.5 1149.2 L1853.8 1220.5 L1855.1 1211.8 L1856.7 1136.3 L1858.3 1122.6 L1858.6 1222.9 L1860.4 1216.8 L1862.4 1150.1 L1864.5 1205.1 L1866.5 1166.1 L1866.8 1208.4 L1868.2 1222.7 L1870 1177 L1871.7 1243.7 L1873.5 1171 L1873.8 1271.3 L1875.3 1245.7 L1877.1 1131.8 L1878.9 1236.7 L1880.7 1059.8 L1881 1225.4 L1882.8 1195.8 L1884.9 1092.8 L1887.1 1175.8 L1889.2 1096 L1889.5 1160.1 L1890.8 1172.8 L1892.4 1130.8 L1894 1144.4 L1894.3 1206 L1896 1213.6 L1898 1145.5 L1900 1137.1 L1900.3 1247.1 L1901.7 1239.2 L1903.3 1166.8 L1904.9 1166.1 L1905.2 1244.7 L1906.9 1238.2 L1908.9 1157.1 L1910.9 1151.6 L1911.2 1225.4 L1912.9 1227.1 L1914.9 1150 L1917 1146.8 L1917.3 1235 L1919 1230.1 L1921 1153 L1923 1137.1 L1923.3 1222.9 L1924.6 1210.5 L1926.2 1138.2 L1927.8 1137.1 L1928.1 1218.1 L1929.6 1185.6 L1931.5 1059.8 L1931.8 1167.4 L1933.1 1163.7 L1934.7 1092.6 L1936.3 1103.3 L1936.6 1169.8 L1938.3 1172 L1940.3 1125.4 L1942.3 1127.5 L1942.6 1186.7 L1944.3 1197.6 L1946.4 1131.1 L1948.4 1125 L1948.7 1239.9 L1950.4 1224.8 L1952.4 1124.9 L1954.4 1117.8 L1954.7 1203.6 L1956.4 1190.1 L1958.4 1121.5 L1960.5 1115.4 L1960.8 1167.4 L1962.3 1189.4 L1964.1 1168.5 L1964.4 1222.9 L1965.9 1225.2 L1967.7 1158.6 L1969.5 1238.7 L1971.3 1146.8 L1971.6 1247.1 L1972.9 1230.8 L1974.6 1129.1 L1976.2 1105.7 L1976.5 1215.7 L1978 1198.8 L1979.8 1125 L1981.6 1190.7 L1983.4 1134.7 L1983.7 1193.9 L1985.2 1180.9 L1987 1108.3 L1988.9 1169.2 L1990.7 1071.9 L1991 1167.4 L1992.3 1177.6 L1993.9 1108.7 L1995.5 1110.5 L1995.8 1220.5 L1997.3 1211.4 L1999.1 1139.8 L2000.9 1206.6 L2002.7 1151.6 L2003 1208.4 L2004.6 1218.7 L2006.4 1163.8 L2008.2 1237.6 L2010 1163.7 L2010.3 1259.2 L2011.8 1259.5 L2013.6 1198.2 L2015.4 1259.4 L2017.2 1224.1 L2017.5 1264 L2019.3 1248.7 L2021.3 1187.3 L2023.3 1154 L2023.6 1239.9 L2025.1 1219.1 L2026.9 1071.9 L2027.2 1210.9 L2028.7 1196.1 L2030.5 1127 L2032.4 1211.4 L2034.2 1158.9 L2034.5 1215.7 L2036.2 1215.8 L2038.2 1168 L2040.2 1171 L2040.5 1227.8 L2041.9 1211.9 L2043.6 1068.1 L2045.4 1191.5 L2047.1 930.8 L2047.4 1220.5 L2049.6 1096 L2049.9 1191.5 L2052.3 1096 L2052.6 1167.4 L2054.3 1171.3 L2056.3 1143.1 L2058.3 1158.9 L2058.6 1201.2 L2060.1 1206.6 L2062 1179.7 L2063.8 1231.3 L2065.6 1192.7 L2065.9 1242.3 L2067.5 1229.7 L2069.4 1023.1 L2071.3 938 L2071.6 1239.9 L2073.8 1146.8 L2074.1 1239.9 L2075.7 1242 L2077.7 1146.8 L2078 1248.3 L2079.8 1238.6 L2082 1181.8 L2082 1248.3" fill="none" stroke="#0000ff" stroke-width="3.6" stroke-linejoin="round"/>
<path d="M1546.7 1400V1390M1546.7 862.8V872.8M1821.3 1400V1390M1821.3 862.8V872.8M1272 1287.4H1282M2096 1287.4H2086M1272 1174.8H1282M2096 1174.8H2086M1272 1062.2H1282M2096 1062.2H2086M1272 949.6H1282M2096 949.6H2086" stroke="#262626" stroke-width="3.84" fill="none"/>
<rect x="1272" y="862.8" width="824" height="537.2" fill="none" stroke="#262626" stroke-width="3.84"/>
<text x="1269.6" y="1469" font-size="48" text-anchor="middle" font-weight="normal" fill="#333" >0</text>
<text x="1542.5" y="1469" font-size="48" text-anchor="middle" font-weight="normal" fill="#333" >500</text>
<text x="1825.5" y="1469" font-size="48" text-anchor="middle" font-weight="normal" fill="#333" >1000</text>
<text x="2099" y="1469" font-size="48" text-anchor="middle" font-weight="normal" fill="#333" >1500</text>
<text x="1250.4" y="1417.5" font-size="48" text-anchor="end" font-weight="normal" fill="#333" letter-spacing="0.5">−100</text>
<text x="1250.4" y="1304.9" font-size="48" text-anchor="end" font-weight="normal" fill="#333" letter-spacing="0.5">−50</text>
<text x="1250.4" y="1192.3" font-size="48" text-anchor="end" font-weight="normal" fill="#333" letter-spacing="0.5">0</text>
<text x="1250.4" y="1079.7" font-size="48" text-anchor="end" font-weight="normal" fill="#333" letter-spacing="0.5">50</text>
<text x="1250.4" y="967.1" font-size="48" text-anchor="end" font-weight="normal" fill="#333" letter-spacing="0.5">100</text>
<text x="1683" y="840.5" font-size="50" text-anchor="middle" font-weight="bold" fill="#111" letter-spacing="1.25">MSE = 330.2508, RMSE = 18.1728, MAE = 13.6737</text>
<text x="1682.8" y="1537.6" font-size="55" text-anchor="middle" font-weight="normal" fill="#333" >t,s</text>
<text x="0" y="0" font-size="52.6" text-anchor="middle" font-weight="normal" fill="#333" transform="translate(1134.5 1131.5) rotate(-90)">Error (ppm)</text>
</svg>
</body></html>
